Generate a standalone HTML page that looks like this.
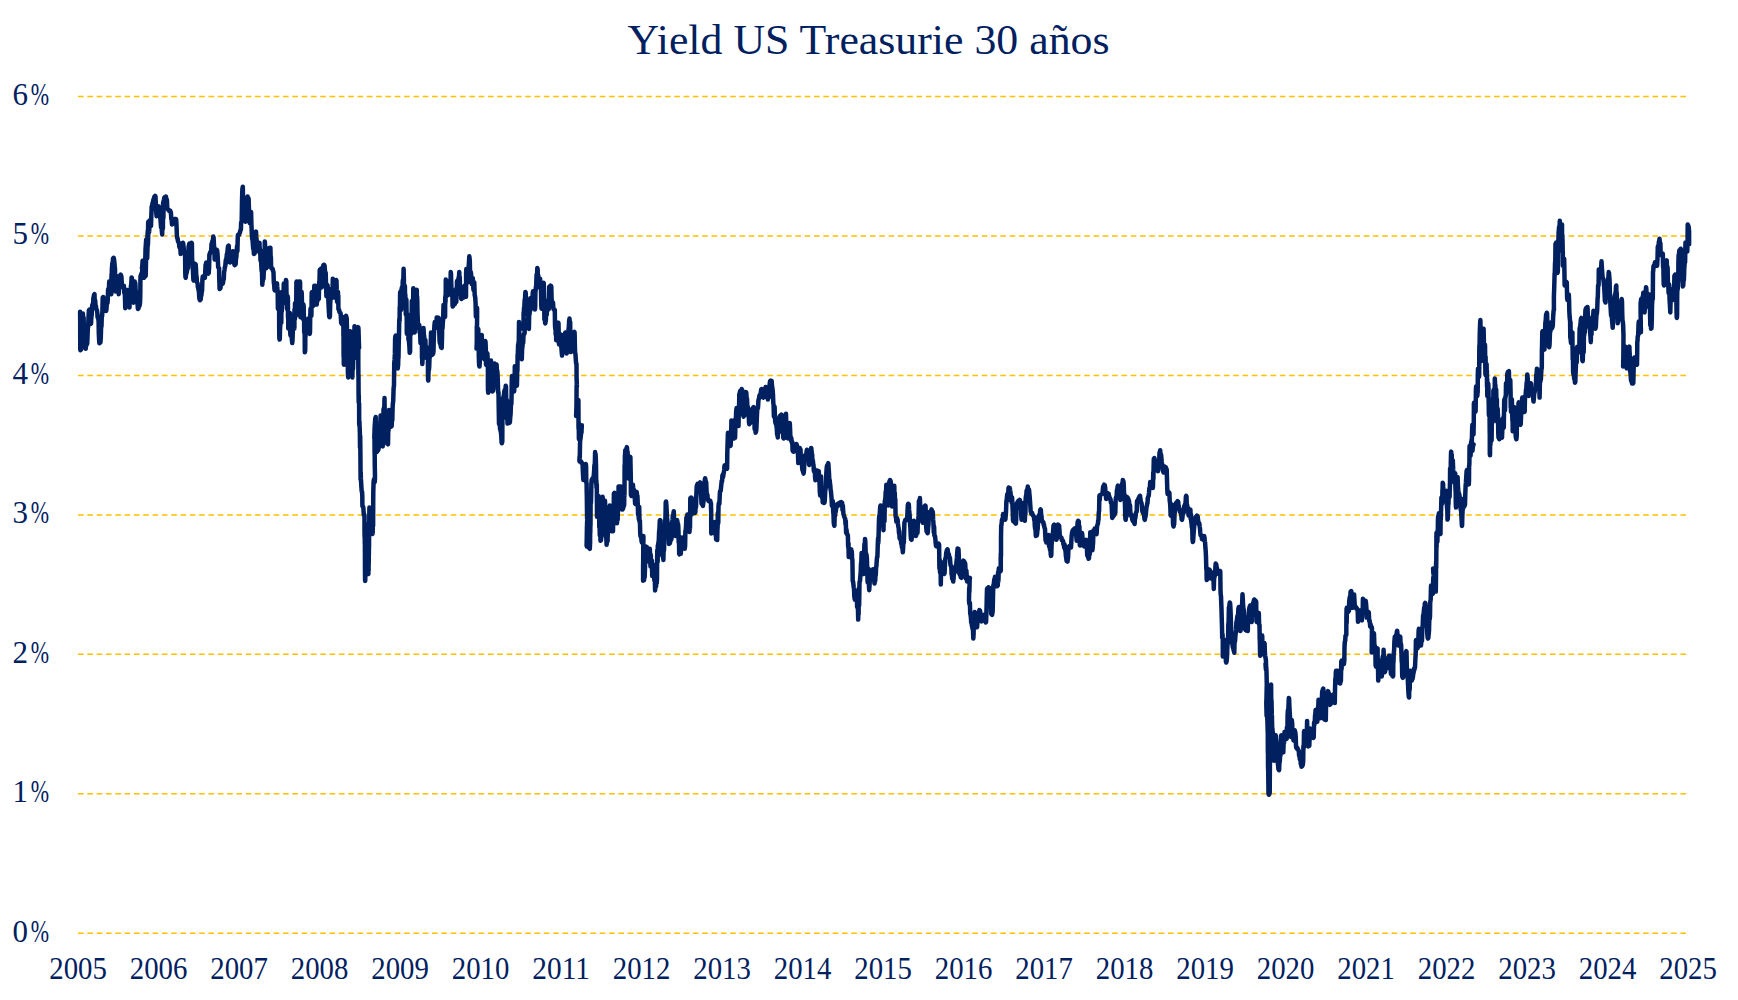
<!DOCTYPE html>
<html lang="es"><head><meta charset="utf-8"><title>Yield US Treasurie 30 años</title>
<style>html,body{margin:0;padding:0;background:#fff;}body{width:1738px;height:1000px;overflow:hidden;}svg{display:block;}text{font-family:"Liberation Serif",serif;fill:#002060;}.g{stroke:#ffc000;stroke-width:1.5;stroke-dasharray:5.7 3.616;fill:none;}.yl{font-size:31px;}.xl{font-size:31px;text-anchor:middle;}.ln{fill:none;stroke:#002060;stroke-width:4.5;stroke-linejoin:round;stroke-linecap:round;}</style></head><body>
<svg width="1738" height="1000" viewBox="0 0 1738 1000">
<rect width="1738" height="1000" fill="#fff"/>
<text x="868.5" y="54" text-anchor="middle" font-size="42" textLength="482" lengthAdjust="spacingAndGlyphs">Yield US Treasurie 30 años</text>
<line class="g" x1="78" x2="1686" y1="933.3" y2="933.3"/>
<text class="yl" y="941.8"><tspan x="12.4">0</tspan><tspan x="30.8" textLength="18.3" lengthAdjust="spacingAndGlyphs">%</tspan></text>
<line class="g" x1="78" x2="1686" y1="793.8" y2="793.8"/>
<text class="yl" y="802.3"><tspan x="12.4">1</tspan><tspan x="30.8" textLength="18.3" lengthAdjust="spacingAndGlyphs">%</tspan></text>
<line class="g" x1="78" x2="1686" y1="654.3" y2="654.3"/>
<text class="yl" y="662.8"><tspan x="12.4">2</tspan><tspan x="30.8" textLength="18.3" lengthAdjust="spacingAndGlyphs">%</tspan></text>
<line class="g" x1="78" x2="1686" y1="514.9" y2="514.9"/>
<text class="yl" y="523.4"><tspan x="12.4">3</tspan><tspan x="30.8" textLength="18.3" lengthAdjust="spacingAndGlyphs">%</tspan></text>
<line class="g" x1="78" x2="1686" y1="375.4" y2="375.4"/>
<text class="yl" y="383.9"><tspan x="12.4">4</tspan><tspan x="30.8" textLength="18.3" lengthAdjust="spacingAndGlyphs">%</tspan></text>
<line class="g" x1="78" x2="1686" y1="235.9" y2="235.9"/>
<text class="yl" y="244.4"><tspan x="12.4">5</tspan><tspan x="30.8" textLength="18.3" lengthAdjust="spacingAndGlyphs">%</tspan></text>
<line class="g" x1="78" x2="1686" y1="96.4" y2="96.4"/>
<text class="yl" y="104.9"><tspan x="12.4">6</tspan><tspan x="30.8" textLength="18.3" lengthAdjust="spacingAndGlyphs">%</tspan></text>
<text class="xl" x="78.1" y="979.3" textLength="57.6" lengthAdjust="spacingAndGlyphs">2005</text>
<text class="xl" x="158.6" y="979.3" textLength="57.6" lengthAdjust="spacingAndGlyphs">2006</text>
<text class="xl" x="239.1" y="979.3" textLength="57.6" lengthAdjust="spacingAndGlyphs">2007</text>
<text class="xl" x="319.6" y="979.3" textLength="57.6" lengthAdjust="spacingAndGlyphs">2008</text>
<text class="xl" x="400.1" y="979.3" textLength="57.6" lengthAdjust="spacingAndGlyphs">2009</text>
<text class="xl" x="480.6" y="979.3" textLength="57.6" lengthAdjust="spacingAndGlyphs">2010</text>
<text class="xl" x="561.1" y="979.3" textLength="57.6" lengthAdjust="spacingAndGlyphs">2011</text>
<text class="xl" x="641.6" y="979.3" textLength="57.6" lengthAdjust="spacingAndGlyphs">2012</text>
<text class="xl" x="722.1" y="979.3" textLength="57.6" lengthAdjust="spacingAndGlyphs">2013</text>
<text class="xl" x="802.6" y="979.3" textLength="57.6" lengthAdjust="spacingAndGlyphs">2014</text>
<text class="xl" x="883.1" y="979.3" textLength="57.6" lengthAdjust="spacingAndGlyphs">2015</text>
<text class="xl" x="963.6" y="979.3" textLength="57.6" lengthAdjust="spacingAndGlyphs">2016</text>
<text class="xl" x="1044.1" y="979.3" textLength="57.6" lengthAdjust="spacingAndGlyphs">2017</text>
<text class="xl" x="1124.6" y="979.3" textLength="57.6" lengthAdjust="spacingAndGlyphs">2018</text>
<text class="xl" x="1205.1" y="979.3" textLength="57.6" lengthAdjust="spacingAndGlyphs">2019</text>
<text class="xl" x="1285.6" y="979.3" textLength="57.6" lengthAdjust="spacingAndGlyphs">2020</text>
<text class="xl" x="1366.1" y="979.3" textLength="57.6" lengthAdjust="spacingAndGlyphs">2021</text>
<text class="xl" x="1446.6" y="979.3" textLength="57.6" lengthAdjust="spacingAndGlyphs">2022</text>
<text class="xl" x="1527.1" y="979.3" textLength="57.6" lengthAdjust="spacingAndGlyphs">2023</text>
<text class="xl" x="1607.6" y="979.3" textLength="57.6" lengthAdjust="spacingAndGlyphs">2024</text>
<text class="xl" x="1688.1" y="979.3" textLength="57.6" lengthAdjust="spacingAndGlyphs">2025</text>
<path class="ln" d="M80.1,311.7 L80.1,313.2 L80.2,323.1 L80.2,336.5 L80.2,338.1 L80.3,349.6 L80.3,349.6 L80.4,350.2 L80.7,349.6 L81.0,349.5 L81.3,348.5 L81.6,348.1 L81.9,346.0 L82.1,339.0 L82.2,345.4 L82.4,325.0 L82.6,317.8 L82.7,321.4 L82.9,313.5 L83.3,322.1 L83.6,317.6 L84.0,332.0 L84.3,339.7 L84.7,338.3 L85.0,345.0 L85.3,343.9 L85.7,348.8 L86.0,343.5 L86.3,344.9 L86.6,345.0 L86.9,342.9 L87.2,343.6 L87.5,337.6 L87.8,328.6 L88.2,326.6 L88.5,317.9 L88.9,310.2 L89.2,310.2 L89.6,309.6 L89.9,316.9 L90.3,319.1 L90.6,323.0 L91.0,323.6 L91.3,317.8 L91.7,314.6 L92.0,307.4 L92.4,304.6 L92.7,304.6 L93.1,304.0 L93.4,298.1 L93.8,296.2 L94.1,294.8 L94.5,294.2 L94.8,303.6 L95.2,300.5 L95.5,305.7 L95.9,306.0 L96.2,309.0 L96.6,309.6 L96.9,310.2 L97.3,312.7 L97.6,317.4 L98.0,318.0 L98.3,318.6 L98.6,321.5 L98.8,333.7 L99.1,339.5 L99.4,343.2 L99.7,342.6 L100.1,336.0 L100.4,342.6 L100.8,337.5 L101.1,327.0 L101.5,326.4 L101.8,315.6 L102.1,316.3 L102.4,311.1 L102.7,297.6 L103.0,297.6 L103.3,297.0 L103.7,301.9 L104.0,303.8 L104.4,307.9 L104.7,305.1 L105.1,307.1 L105.4,308.3 L105.8,307.0 L106.1,311.0 L106.4,309.9 L106.8,303.7 L107.1,299.0 L107.5,303.2 L107.8,298.4 L108.1,289.5 L108.5,288.6 L108.8,291.7 L109.2,281.6 L109.5,284.8 L109.9,290.8 L110.2,291.4 L110.6,293.6 L110.9,293.6 L111.3,294.2 L111.4,280.4 L111.6,273.8 L111.7,277.3 L111.9,268.6 L112.0,267.6 L112.3,263.1 L112.7,264.5 L113.0,258.4 L113.3,261.8 L113.7,257.8 L114.0,259.0 L114.4,262.4 L114.8,267.6 L115.0,268.2 L115.1,278.8 L115.3,279.6 L115.5,291.4 L115.8,282.4 L116.2,276.8 L116.5,276.6 L116.9,276.0 L117.2,282.3 L117.5,278.5 L117.8,287.4 L118.1,280.9 L118.4,283.8 L118.7,294.2 L119.0,286.5 L119.4,282.9 L119.7,282.7 L120.0,277.4 L120.3,275.2 L120.7,274.6 L121.0,275.2 L121.4,276.4 L121.7,282.1 L122.1,287.2 L122.4,286.6 L122.7,286.6 L123.0,286.6 L123.3,286.4 L123.6,286.4 L123.9,285.8 L124.2,292.9 L124.6,288.8 L124.9,295.5 L125.3,308.2 L125.6,303.5 L126.0,295.2 L126.3,300.1 L126.7,296.2 L127.0,292.8 L127.4,290.0 L127.7,291.4 L128.1,294.9 L128.4,290.6 L128.8,296.6 L129.1,303.7 L129.5,307.5 L129.8,292.8 L130.2,291.9 L130.5,295.5 L130.9,285.8 L131.2,285.2 L131.6,277.4 L131.9,278.0 L132.3,292.0 L132.6,300.8 L132.9,302.0 L133.3,302.6 L133.6,293.4 L134.0,282.9 L134.3,294.4 L134.7,281.6 L135.0,289.8 L135.3,283.0 L135.6,290.1 L135.9,292.7 L136.2,291.9 L136.5,298.4 L136.8,299.6 L137.2,299.0 L137.5,304.0 L137.9,308.9 L138.2,308.3 L138.6,308.3 L138.9,305.3 L139.3,304.7 L139.6,305.6 L140.0,302.6 L140.1,301.5 L140.3,293.4 L140.4,282.3 L140.5,276.6 L140.7,276.0 L141.0,274.9 L141.3,273.7 L141.6,275.4 L141.9,274.7 L142.2,270.9 L142.5,268.3 L142.8,268.9 L143.2,273.2 L143.5,276.8 L143.8,275.1 L144.2,277.4 L144.5,276.8 L144.9,276.6 L145.2,276.6 L145.6,276.0 L145.7,275.4 L145.9,267.2 L146.0,261.2 L146.1,251.4 L146.3,250.8 L146.6,247.4 L147.0,246.0 L147.3,245.8 L147.7,245.2 L147.9,244.6 L148.1,240.2 L148.4,228.4 L148.7,227.8 L149.1,226.5 L149.4,225.5 L149.8,223.1 L150.1,224.1 L150.5,220.0 L150.2,222.8 L149.8,227.1 L149.5,220.6 L149.2,231.9 L148.8,223.2 L148.5,227.5 L148.2,222.0 L147.8,244.6 L147.5,247.8 L147.2,258.1 L146.9,240.6 L146.5,249.7 L146.2,239.6 L145.9,243.4 L145.5,250.2 L145.2,263.1 L144.9,260.6 L144.5,259.9 L144.2,263.0 L143.9,267.4 L143.5,267.4 L143.2,267.4 L142.9,267.4 L142.6,260.7 L142.2,267.4 L141.9,268.0 L142.2,268.6 L142.6,269.9 L142.9,272.5 L143.3,277.2 L143.6,276.6 L144.0,277.8 L144.3,277.2 L144.7,275.1 L145.0,275.0 L145.4,273.6 L145.6,272.2 L145.7,268.4 L145.9,255.6 L146.1,251.2 L146.4,250.0 L146.7,248.9 L147.0,241.1 L147.3,240.1 L147.6,233.3 L147.9,230.2 L148.2,229.2 L148.6,224.0 L148.9,221.8 L149.2,222.4 L149.6,223.2 L149.9,224.0 L150.3,223.8 L150.6,225.4 L151.0,226.0 L151.3,216.6 L151.7,206.3 L152.0,209.8 L152.4,203.6 L152.7,203.0 L153.1,201.3 L153.4,199.5 L153.8,201.2 L154.1,197.6 L154.5,196.5 L154.8,196.5 L155.2,195.9 L155.5,196.5 L155.9,205.1 L156.2,211.8 L156.6,216.2 L156.9,214.0 L157.3,207.8 L157.6,208.8 L158.0,207.0 L158.3,207.7 L158.7,206.4 L159.0,207.3 L159.4,209.5 L159.7,214.6 L160.1,217.6 L160.4,218.2 L160.8,224.0 L161.1,227.6 L161.5,225.2 L161.8,230.6 L162.2,234.4 L162.4,222.2 L162.7,227.0 L162.9,228.7 L163.1,202.6 L163.4,218.2 L163.6,200.8 L163.9,200.0 L164.3,197.8 L164.6,197.2 L165.0,197.2 L165.3,197.3 L165.6,197.6 L166.0,196.6 L166.3,202.1 L166.6,199.0 L166.9,200.1 L167.2,206.8 L167.5,208.6 L167.8,209.2 L168.1,209.8 L168.5,209.8 L168.8,209.8 L169.2,211.0 L169.5,210.5 L169.9,211.1 L170.2,210.6 L170.6,212.0 L170.9,212.6 L171.3,219.2 L171.6,218.8 L172.0,224.6 L172.3,223.2 L172.6,223.9 L172.9,222.7 L173.3,222.2 L173.6,219.6 L173.9,219.6 L174.2,219.6 L174.5,219.0 L174.9,219.0 L175.2,219.0 L175.6,219.0 L175.9,219.0 L176.2,219.6 L176.6,227.4 L176.9,235.8 L177.2,238.1 L177.6,238.2 L177.9,240.9 L178.3,242.2 L178.6,242.2 L179.0,242.8 L179.3,246.5 L179.7,247.7 L180.0,243.6 L180.3,248.0 L180.7,254.0 L181.0,247.6 L181.3,250.8 L181.6,247.3 L181.9,246.5 L182.3,249.1 L182.6,244.0 L182.9,242.8 L183.2,243.4 L183.6,246.9 L183.9,250.3 L184.2,253.4 L184.5,253.4 L184.9,254.0 L185.1,256.7 L185.3,273.4 L185.5,277.2 L185.7,277.8 L186.0,275.1 L186.4,273.1 L186.7,272.5 L187.1,270.3 L187.4,268.6 L187.7,268.6 L188.1,268.0 L188.3,256.3 L188.6,246.4 L188.8,248.1 L189.1,244.2 L189.4,243.6 L189.7,243.6 L190.0,243.6 L190.3,243.4 L190.6,243.6 L191.0,243.4 L191.3,243.4 L191.6,242.8 L191.9,243.4 L192.1,258.7 L192.4,262.2 L192.7,265.2 L193.0,271.4 L193.4,280.0 L193.7,280.6 L194.0,275.6 L194.4,267.1 L194.7,264.6 L195.1,263.8 L195.4,264.4 L195.7,264.5 L196.0,268.6 L196.3,276.6 L196.6,276.5 L196.9,282.0 L197.2,282.6 L197.6,283.3 L197.9,287.3 L198.2,287.5 L198.6,290.4 L198.9,291.0 L199.3,297.9 L199.6,299.5 L200.0,300.2 L200.3,297.5 L200.7,299.6 L201.0,295.5 L201.4,295.2 L201.7,292.1 L202.1,290.4 L202.4,279.5 L202.8,276.4 L203.1,277.0 L203.5,277.0 L203.8,277.0 L204.2,277.0 L204.5,277.2 L204.9,277.8 L205.2,272.8 L205.6,264.5 L205.9,265.4 L206.3,262.4 L206.6,267.8 L207.0,269.5 L207.3,267.5 L207.7,270.5 L208.0,272.3 L208.4,273.6 L208.7,273.0 L209.1,267.5 L209.4,254.6 L209.8,254.0 L210.1,252.5 L210.5,252.0 L210.8,251.8 L211.2,251.2 L211.5,243.9 L211.9,246.1 L212.2,241.4 L212.6,243.2 L212.9,240.3 L213.3,236.5 L213.6,237.8 L214.0,245.1 L214.3,249.1 L214.7,259.6 L215.0,259.0 L215.4,259.0 L215.7,253.1 L216.1,255.5 L216.4,252.4 L216.8,249.8 L217.1,250.4 L217.5,253.6 L217.8,259.1 L218.2,267.4 L218.5,267.4 L218.9,268.0 L219.1,268.6 L219.2,277.2 L219.4,281.9 L219.6,289.0 L219.9,288.4 L220.2,288.0 L220.5,288.1 L220.9,284.4 L221.2,284.1 L221.5,284.4 L221.8,282.6 L222.1,282.6 L222.4,282.6 L222.8,283.6 L223.1,282.0 L223.4,280.1 L223.8,279.0 L224.1,272.0 L224.5,270.1 L224.8,267.2 L225.2,266.6 L225.5,262.9 L225.9,259.4 L226.2,263.0 L226.6,256.8 L226.9,253.9 L227.3,253.3 L227.6,250.0 L228.0,246.2 L228.3,246.2 L228.7,245.6 L229.0,254.4 L229.4,254.5 L229.7,261.8 L230.1,262.4 L230.4,259.7 L230.8,260.3 L231.1,258.4 L231.5,254.9 L231.8,258.3 L232.2,257.9 L232.5,255.0 L232.9,251.2 L233.2,251.8 L233.5,251.8 L233.8,259.3 L234.1,262.5 L234.4,264.5 L234.7,265.2 L235.0,263.6 L235.4,264.6 L235.7,263.9 L236.0,258.6 L236.4,256.8 L236.7,250.4 L237.1,246.0 L237.4,251.2 L237.8,235.8 L238.1,234.7 L238.5,234.9 L238.8,235.2 L239.2,234.1 L239.5,233.1 L239.9,232.9 L240.2,230.8 L240.6,230.2 L240.9,229.6 L241.1,223.0 L241.4,222.0 L241.7,221.0 L242.0,200.8 L242.3,190.6 L242.5,188.2 L242.8,186.8 L243.1,202.7 L243.3,196.0 L243.6,202.6 L243.8,211.4 L244.1,212.0 L244.4,213.8 L244.8,214.7 L245.1,217.1 L245.5,221.8 L245.8,221.2 L246.2,218.3 L246.5,216.4 L246.9,210.2 L247.2,203.0 L247.6,196.6 L247.9,199.5 L248.3,203.4 L248.6,198.5 L249.0,210.0 L249.3,215.6 L249.7,223.2 L250.0,218.5 L250.4,217.2 L250.7,214.2 L251.1,212.0 L251.4,224.0 L251.6,228.3 L251.9,235.7 L252.2,238.9 L252.5,240.0 L252.8,243.3 L253.2,248.9 L253.5,244.6 L253.9,254.0 L254.2,253.4 L254.6,253.4 L254.9,240.2 L255.3,242.4 L255.6,232.2 L256.0,231.6 L256.3,236.9 L256.7,240.9 L257.0,244.5 L257.4,250.6 L257.7,248.8 L258.1,251.2 L258.4,245.9 L258.8,244.9 L259.1,243.4 L259.5,242.8 L259.8,252.9 L260.2,249.8 L260.5,260.4 L260.9,261.0 L261.2,262.6 L261.6,270.8 L261.9,268.4 L262.3,284.8 L262.6,279.0 L262.9,280.9 L263.2,272.3 L263.5,278.8 L263.8,271.4 L264.1,270.8 L264.2,258.2 L264.4,252.7 L264.5,251.4 L264.7,247.5 L264.8,241.4 L265.1,245.4 L265.5,261.1 L265.8,250.5 L266.1,260.5 L266.5,268.0 L266.8,267.4 L267.2,262.8 L267.5,262.1 L267.9,256.7 L268.2,253.5 L268.6,248.4 L268.9,248.3 L269.2,248.1 L269.5,248.0 L269.8,247.9 L270.1,247.8 L270.4,247.7 L270.6,255.5 L270.9,257.3 L271.1,267.4 L271.4,268.0 L271.7,268.6 L272.1,269.0 L272.4,268.6 L272.8,269.4 L273.1,271.2 L273.5,272.2 L273.8,282.5 L274.2,285.2 L274.5,289.8 L274.9,290.4 L275.2,286.2 L275.6,289.8 L275.9,285.0 L276.3,284.0 L276.6,284.0 L277.0,283.4 L277.2,286.5 L277.3,287.3 L277.5,291.1 L277.7,293.4 L277.9,308.8 L278.2,301.9 L278.4,300.5 L278.6,292.0 L278.7,297.6 L278.8,303.4 L278.9,303.7 L279.1,307.2 L279.2,330.4 L279.3,336.2 L279.4,339.0 L279.5,339.0 L279.6,339.6 L279.8,339.0 L280.0,330.0 L280.2,326.5 L280.4,315.8 L280.7,320.8 L281.0,322.2 L281.3,322.8 L281.4,309.0 L281.6,304.1 L281.7,297.9 L281.8,311.5 L282.0,298.2 L282.1,292.0 L282.4,295.0 L282.7,302.6 L283.0,303.2 L283.2,297.5 L283.5,293.8 L283.8,283.6 L284.2,284.2 L284.5,291.2 L284.9,296.2 L285.2,295.5 L285.6,293.0 L285.9,280.1 L286.1,288.1 L286.3,280.7 L286.5,293.2 L286.7,300.6 L286.9,308.8 L287.2,296.8 L287.6,296.2 L287.7,296.8 L287.8,296.8 L287.9,298.2 L288.0,317.1 L288.2,318.5 L288.3,328.4 L288.6,321.2 L289.0,318.2 L289.3,320.0 L289.7,313.0 L289.9,321.0 L290.1,313.6 L290.3,334.0 L290.5,335.4 L290.8,319.0 L291.2,331.3 L291.5,315.8 L291.6,316.4 L291.8,338.4 L291.9,340.7 L292.1,340.7 L292.2,343.1 L292.5,340.7 L292.8,332.4 L293.0,316.4 L293.3,318.7 L293.6,315.8 L293.9,316.4 L294.2,320.6 L294.4,328.4 L294.5,309.2 L294.7,313.5 L294.8,318.0 L294.9,319.3 L295.0,303.2 L295.3,308.4 L295.6,305.3 L296.0,315.8 L296.1,308.3 L296.2,301.1 L296.3,293.2 L296.4,282.1 L296.6,282.3 L296.7,281.5 L297.0,288.0 L297.3,289.1 L297.6,292.4 L297.9,304.6 L298.2,304.0 L298.4,293.4 L298.7,291.1 L298.9,281.5 L299.2,281.5 L299.6,281.5 L299.9,281.5 L300.0,294.3 L300.1,282.1 L300.1,290.5 L300.2,300.5 L300.3,316.6 L300.4,307.9 L300.5,317.2 L300.7,312.7 L300.9,301.5 L301.1,305.9 L301.4,292.6 L301.6,292.0 L301.8,294.3 L302.0,304.6 L302.2,314.4 L302.5,318.0 L302.7,318.6 L303.0,317.8 L303.3,312.1 L303.5,304.6 L303.7,306.6 L303.8,313.7 L304.0,317.5 L304.1,322.8 L304.2,332.6 L304.4,324.9 L304.5,326.9 L304.7,335.9 L304.8,352.2 L305.0,351.6 L305.2,350.4 L305.4,329.8 L305.5,336.6 L305.7,320.6 L305.9,320.0 L306.3,325.9 L306.7,331.0 L307.0,332.6 L307.3,323.7 L307.7,321.4 L308.0,323.9 L308.3,318.6 L308.6,323.0 L309.0,331.1 L309.3,324.1 L309.7,334.0 L309.9,323.9 L310.0,332.6 L310.2,317.0 L310.4,312.5 L310.5,308.8 L310.8,311.1 L311.1,315.2 L311.4,315.8 L311.5,308.6 L311.7,292.6 L311.9,292.6 L312.1,292.0 L312.4,298.1 L312.8,295.0 L313.2,306.0 L313.5,292.6 L313.8,293.1 L314.0,298.4 L314.3,285.7 L314.6,285.7 L315.0,285.7 L315.3,285.7 L315.6,291.7 L316.0,288.9 L316.3,302.1 L316.7,304.6 L317.0,300.9 L317.3,301.5 L317.7,292.0 L318.0,293.7 L318.4,298.4 L318.8,299.0 L319.0,290.3 L319.2,282.3 L319.5,280.9 L319.7,270.2 L319.9,269.6 L320.2,270.7 L320.6,277.1 L320.9,287.8 L321.1,276.0 L321.4,284.3 L321.6,268.2 L322.0,270.0 L322.3,285.5 L322.7,286.4 L323.0,274.7 L323.3,265.3 L323.7,268.7 L324.0,264.7 L324.3,268.2 L324.6,265.6 L324.9,270.1 L325.2,271.8 L325.5,272.4 L325.7,273.0 L325.9,279.7 L326.1,287.2 L326.4,296.2 L326.7,294.6 L327.0,290.8 L327.3,285.0 L327.6,285.6 L328.0,290.4 L328.3,298.5 L328.6,306.0 L328.9,311.5 L329.2,316.6 L329.6,317.2 L329.9,316.6 L330.2,303.5 L330.6,297.6 L330.8,293.4 L331.1,289.8 L331.4,289.2 L331.7,291.1 L332.1,297.6 L332.3,293.9 L332.6,289.5 L332.8,278.7 L333.1,289.7 L333.4,285.5 L333.7,284.1 L334.0,288.0 L334.3,297.6 L334.7,292.0 L335.0,293.5 L335.3,282.6 L335.6,288.5 L336.0,283.0 L336.3,280.1 L336.5,280.7 L336.7,289.4 L336.9,293.2 L337.1,301.8 L337.4,300.4 L337.7,297.3 L338.0,292.0 L338.1,298.3 L338.3,295.4 L338.4,308.8 L338.7,309.5 L339.1,309.9 L339.4,311.9 L339.8,312.4 L340.1,312.4 L340.5,313.0 L340.8,316.1 L341.2,323.0 L341.5,318.1 L341.9,324.2 L342.2,319.9 L342.6,319.0 L342.9,318.0 L343.3,317.2 L343.4,317.8 L343.4,335.5 L343.5,331.6 L343.6,357.1 L343.7,345.9 L343.8,354.3 L343.8,364.2 L343.9,362.9 L344.0,364.8 L344.1,362.0 L344.3,354.5 L344.5,354.1 L344.6,354.5 L344.8,345.0 L344.9,332.3 L345.1,328.4 L345.4,327.8 L345.8,318.2 L346.1,315.8 L346.4,319.8 L346.7,317.7 L347.1,334.0 L347.2,347.5 L347.3,344.3 L347.5,358.1 L347.6,347.2 L347.8,356.0 L347.9,371.9 L348.0,375.1 L348.2,377.4 L348.3,374.8 L348.5,373.9 L348.7,365.7 L348.8,365.7 L349.0,352.1 L349.1,345.3 L349.3,339.6 L349.6,334.6 L350.0,333.4 L350.3,331.2 L350.6,331.8 L350.9,337.5 L351.3,348.0 L351.5,348.6 L351.7,348.9 L351.9,362.5 L352.2,362.1 L352.4,377.4 L352.5,367.5 L352.7,368.7 L352.9,364.6 L353.0,369.3 L353.2,361.5 L353.3,353.1 L353.5,339.6 L353.8,332.7 L354.2,338.2 L354.5,326.3 L354.7,332.4 L355.0,340.8 L355.2,356.8 L355.4,357.2 L355.7,357.2 L355.9,357.8 L356.1,341.6 L356.4,334.6 L356.6,342.7 L356.9,334.0 L357.2,329.2 L357.6,327.6 L358.0,327.0 L358.3,327.6 L358.5,329.5 L358.8,340.7 L359.1,348.0 L358.8,347.7 L358.5,347.3 L358.2,347.0 L358.3,350.8 L358.3,360.9 L358.4,375.0 L358.5,375.3 L358.5,378.3 L358.6,397.1 L358.6,390.7 L358.7,402.4 L358.8,395.5 L358.8,402.4 L358.9,403.0 L359.1,403.6 L359.2,424.7 L359.4,421.0 L359.6,426.8 L359.7,427.4 L359.9,434.2 L360.0,447.7 L360.2,435.7 L360.3,443.6 L360.4,452.7 L360.6,479.4 L360.7,471.7 L360.9,478.9 L361.0,480.0 L361.4,487.1 L361.7,491.4 L362.1,492.0 L362.3,496.1 L362.4,506.0 L362.7,506.6 L363.1,506.6 L363.4,508.1 L363.8,515.2 L364.1,513.9 L364.5,515.8 L364.5,530.9 L364.6,537.0 L364.7,522.5 L364.7,534.4 L364.8,541.4 L364.8,544.0 L364.9,542.0 L364.9,546.6 L365.0,570.0 L365.0,572.5 L365.1,580.3 L365.1,580.3 L365.2,580.9 L365.5,572.2 L365.8,560.6 L366.0,549.6 L366.3,549.8 L366.6,548.6 L366.9,548.0 L367.2,548.6 L367.5,558.4 L367.8,566.9 L368.1,573.3 L368.4,573.9 L368.5,565.0 L368.6,570.8 L368.6,562.1 L368.7,564.0 L368.8,554.5 L368.9,553.1 L368.9,548.0 L369.0,548.2 L369.1,535.4 L369.2,532.2 L369.2,525.1 L369.3,518.6 L369.4,507.4 L369.7,513.6 L370.1,515.0 L370.4,526.9 L370.7,527.3 L371.1,528.4 L371.4,529.5 L371.8,531.0 L372.1,533.4 L372.5,534.0 L372.6,531.0 L372.7,533.4 L372.8,523.4 L372.9,521.6 L373.0,508.4 L373.1,526.0 L373.2,502.5 L373.3,492.0 L373.6,481.6 L374.0,479.2 L374.3,479.0 L374.7,482.1 L375.0,478.0 L374.9,470.7 L374.8,467.1 L374.7,455.1 L374.6,449.4 L374.6,453.7 L374.5,438.6 L374.4,438.6 L374.3,438.0 L374.6,428.2 L375.0,422.1 L375.3,418.5 L375.7,417.0 L375.8,433.7 L376.0,443.5 L376.1,429.1 L376.3,429.6 L376.4,434.8 L376.5,431.5 L376.7,452.0 L377.0,451.1 L377.3,451.2 L377.6,450.1 L377.9,450.4 L378.2,450.1 L378.5,449.2 L378.8,446.2 L379.2,430.0 L379.5,442.7 L379.9,433.1 L380.2,425.7 L380.6,415.6 L380.9,427.1 L381.3,421.6 L381.6,423.5 L382.0,435.1 L382.3,437.8 L382.7,446.4 L382.9,433.6 L383.1,421.3 L383.3,431.7 L383.5,408.9 L383.7,412.8 L383.9,409.9 L384.1,425.1 L384.3,406.8 L384.5,398.1 L384.7,411.4 L384.8,423.2 L384.9,434.4 L385.1,429.0 L385.2,437.4 L385.3,436.4 L385.5,438.0 L385.8,441.2 L386.1,440.7 L386.4,442.3 L386.7,442.7 L387.1,443.7 L387.4,443.7 L387.7,443.7 L388.0,444.3 L388.2,434.1 L388.3,424.2 L388.5,431.0 L388.7,426.4 L388.8,422.5 L389.0,410.0 L389.3,410.6 L389.7,419.8 L390.0,417.1 L390.4,426.2 L390.7,424.4 L391.1,426.8 L391.4,426.2 L391.7,426.2 L392.0,418.3 L392.3,420.5 L392.6,407.9 L392.9,403.0 L393.2,401.3 L393.6,388.1 L393.9,386.2 L394.0,385.6 L394.1,370.8 L394.2,374.7 L394.2,364.0 L394.6,359.2 L394.9,353.4 L395.1,339.1 L395.4,336.2 L395.8,335.5 L396.1,336.5 L396.4,347.4 L396.8,355.0 L397.1,355.6 L397.4,362.9 L397.7,368.5 L397.9,366.6 L398.1,365.6 L398.3,358.2 L398.5,358.2 L398.8,340.0 L398.9,339.4 L399.1,328.2 L399.2,322.0 L399.4,318.4 L399.6,321.4 L399.7,307.0 L399.9,310.2 L400.1,294.0 L400.2,292.0 L400.5,300.4 L400.8,308.2 L401.0,310.0 L401.2,309.4 L401.4,289.5 L401.6,291.9 L401.8,287.5 L402.1,297.2 L402.5,299.5 L402.7,281.9 L402.9,279.9 L403.0,285.5 L403.2,285.1 L403.4,276.7 L403.6,268.8 L403.7,272.1 L403.9,279.7 L404.1,294.4 L404.3,294.2 L404.4,295.0 L404.9,286.0 L405.1,297.0 L405.3,294.4 L405.4,297.7 L405.6,298.2 L405.8,314.5 L406.0,306.1 L406.2,301.7 L406.4,299.5 L406.5,307.7 L406.6,313.7 L406.7,313.0 L406.8,333.4 L406.9,333.4 L407.0,334.0 L407.3,331.8 L407.6,326.8 L407.9,314.5 L408.1,315.1 L408.3,324.4 L408.4,339.4 L408.6,339.4 L408.8,340.0 L409.1,342.8 L409.4,346.4 L409.7,352.8 L409.9,352.1 L410.1,352.1 L410.2,332.0 L410.4,334.3 L410.6,325.0 L410.9,331.9 L411.2,334.0 L411.3,330.3 L411.4,327.5 L411.5,333.3 L411.6,318.1 L411.7,310.2 L411.8,301.0 L412.1,309.1 L412.4,313.9 L412.7,314.5 L412.8,309.0 L412.9,308.6 L413.1,310.0 L413.2,295.3 L413.3,288.2 L413.4,289.4 L413.6,288.9 L413.8,295.2 L413.9,321.6 L414.1,317.7 L414.2,319.6 L414.4,328.2 L414.5,332.5 L414.6,331.2 L414.8,331.9 L414.9,312.7 L415.0,311.1 L415.1,295.6 L415.3,295.6 L415.4,295.0 L415.7,291.8 L416.1,290.6 L416.4,291.0 L416.8,289.8 L416.9,305.3 L417.1,296.4 L417.3,301.2 L417.5,313.0 L417.8,320.0 L418.1,327.4 L418.4,328.0 L418.7,327.4 L419.0,325.6 L419.3,325.0 L419.6,332.3 L419.9,331.3 L420.2,334.7 L420.5,343.0 L420.8,342.2 L421.1,334.6 L421.4,334.0 L421.5,334.6 L421.7,334.6 L421.9,344.8 L422.0,358.4 L422.1,350.8 L422.3,364.0 L422.5,360.6 L422.6,344.0 L422.8,351.3 L423.0,338.4 L423.2,328.6 L423.3,339.9 L423.5,328.0 L423.9,334.9 L424.2,336.0 L424.6,347.5 L424.9,341.4 L425.1,341.5 L425.4,340.0 L425.8,353.6 L426.1,352.1 L426.5,358.0 L426.8,351.2 L427.1,348.1 L427.4,347.5 L427.5,348.1 L427.7,357.8 L427.9,350.5 L428.0,376.9 L428.1,379.9 L428.3,380.5 L428.6,368.3 L428.9,369.9 L429.2,367.2 L429.5,358.0 L429.9,356.9 L430.2,355.0 L430.4,354.4 L430.6,348.2 L430.8,341.9 L431.0,332.5 L431.2,343.3 L431.4,337.0 L431.7,346.1 L431.9,355.0 L432.2,354.4 L432.6,354.4 L432.9,354.1 L433.2,353.5 L433.5,351.3 L433.8,337.8 L434.0,334.0 L434.4,325.5 L434.8,322.0 L435.1,322.6 L435.4,324.9 L435.8,328.0 L436.1,327.4 L436.4,325.6 L436.7,317.5 L437.1,317.6 L437.4,317.6 L437.8,317.7 L438.1,317.7 L438.5,317.8 L438.8,318.4 L439.0,322.5 L439.3,332.6 L439.6,341.6 L439.9,343.2 L440.3,343.6 L440.6,344.8 L441.0,347.3 L441.3,347.3 L441.7,347.9 L442.0,338.6 L442.2,324.2 L442.5,328.6 L442.8,323.0 L443.0,320.7 L443.3,314.1 L443.5,305.0 L443.8,305.7 L444.1,309.9 L444.4,315.5 L444.7,316.1 L445.0,317.0 L445.1,316.4 L445.2,297.5 L445.3,303.6 L445.4,295.7 L445.5,301.7 L445.7,295.4 L445.8,279.5 L446.1,289.9 L446.5,285.3 L446.8,296.0 L447.1,295.4 L447.4,295.4 L447.7,294.5 L448.0,292.2 L448.3,284.0 L448.8,281.0 L449.1,284.8 L449.4,286.2 L449.7,294.5 L449.9,289.7 L450.2,292.6 L450.5,287.0 L450.7,272.0 L451.0,273.6 L451.2,282.3 L451.5,290.0 L451.8,290.0 L452.2,290.0 L452.4,297.8 L452.6,305.9 L452.8,306.5 L453.1,299.5 L453.4,297.1 L453.7,294.5 L454.1,299.3 L454.4,302.5 L454.8,304.3 L455.1,301.0 L455.5,290.0 L455.9,301.4 L456.3,302.0 L456.5,287.9 L456.6,289.6 L456.8,292.2 L457.0,281.0 L457.3,281.6 L457.6,289.4 L457.9,294.5 L458.1,293.4 L458.3,279.7 L458.5,278.0 L458.9,277.4 L459.3,272.0 L459.5,285.7 L459.8,277.1 L460.0,291.5 L460.4,290.9 L460.8,290.0 L461.1,298.4 L461.5,299.0 L461.9,292.0 L462.2,287.6 L462.6,287.0 L462.9,295.5 L463.2,293.6 L463.5,296.9 L463.8,297.5 L464.1,293.8 L464.5,286.6 L464.8,285.5 L465.1,288.6 L465.4,287.4 L465.7,290.0 L466.0,296.8 L466.1,282.7 L466.1,272.7 L466.2,271.4 L466.3,269.6 L466.3,269.0 L466.6,271.4 L466.9,281.3 L467.2,281.9 L467.5,282.5 L467.8,270.8 L468.1,273.6 L468.4,267.5 L468.7,266.3 L469.0,261.4 L469.3,256.3 L469.6,258.6 L469.8,260.7 L470.1,273.5 L470.5,272.9 L470.8,272.0 L471.1,274.1 L471.4,279.9 L471.7,284.0 L472.1,280.5 L472.4,278.6 L472.8,278.0 L473.2,286.2 L473.5,290.0 L473.9,289.4 L474.3,282.5 L474.7,295.4 L475.0,296.0 L475.3,298.5 L475.6,303.6 L475.9,316.4 L476.2,317.0 L476.5,316.4 L476.8,314.2 L477.1,308.0 L477.1,316.6 L477.0,328.9 L476.9,341.8 L476.8,325.9 L476.8,344.2 L476.7,343.3 L476.6,348.0 L476.5,348.6 L476.9,342.0 L477.2,336.6 L477.6,333.7 L478.0,341.7 L478.3,329.1 L478.5,347.6 L478.7,343.8 L478.8,356.6 L479.0,362.1 L479.2,366.0 L479.4,364.5 L479.5,366.6 L479.8,362.2 L480.0,347.6 L480.3,351.1 L480.5,352.1 L480.7,341.1 L481.1,339.3 L481.4,339.4 L481.8,335.1 L482.0,348.3 L482.3,351.4 L482.5,353.1 L482.9,343.2 L483.3,342.6 L483.6,352.9 L484.0,357.6 L484.3,359.1 L484.6,358.5 L484.9,344.1 L485.2,341.1 L485.5,341.7 L485.8,348.4 L486.0,364.5 L486.3,365.1 L486.7,364.4 L487.0,353.1 L487.4,353.7 L487.8,362.1 L487.9,362.7 L487.9,381.6 L488.0,390.9 L488.1,377.4 L488.1,382.9 L488.2,392.8 L488.5,384.6 L488.9,379.4 L489.2,362.9 L489.6,368.5 L489.9,361.2 L490.3,366.0 L490.6,371.8 L491.0,360.6 L491.2,379.6 L491.5,379.6 L491.7,384.3 L491.9,373.0 L492.2,379.3 L492.4,391.4 L492.7,389.5 L493.1,390.8 L493.4,389.5 L493.8,380.1 L494.1,370.2 L494.5,363.4 L494.8,364.0 L495.2,364.1 L495.5,364.2 L495.9,364.2 L496.2,364.2 L496.6,364.8 L496.9,370.6 L497.3,370.9 L497.6,374.9 L498.0,387.2 L498.2,393.3 L498.5,392.0 L498.7,406.8 L499.0,424.0 L499.4,412.3 L499.7,422.8 L500.1,429.2 L500.4,429.8 L500.7,431.2 L501.0,432.7 L501.3,436.5 L501.6,442.6 L501.9,443.2 L502.0,419.6 L502.2,419.8 L502.3,442.1 L502.4,419.9 L502.5,399.0 L502.7,399.0 L502.8,404.2 L502.9,398.4 L503.2,397.8 L503.6,396.5 L503.9,395.4 L504.3,391.5 L504.6,390.1 L505.0,390.2 L505.3,391.2 L505.7,385.8 L506.0,386.4 L506.2,401.1 L506.5,399.6 L506.7,418.4 L507.0,400.3 L507.3,412.9 L507.5,423.6 L507.9,423.0 L508.2,423.0 L508.5,422.8 L508.9,423.0 L509.2,423.0 L509.6,422.8 L509.9,422.2 L510.2,417.7 L510.6,414.1 L510.9,405.3 L511.3,404.0 L511.4,403.4 L511.6,393.6 L511.7,383.9 L511.9,376.6 L512.0,376.0 L512.3,379.2 L512.7,384.0 L513.0,390.1 L513.4,388.2 L513.7,388.7 L514.1,391.4 L514.2,390.6 L514.4,384.7 L514.5,384.1 L514.7,380.1 L514.8,366.2 L515.1,371.8 L515.5,381.2 L515.8,378.2 L516.2,383.0 L516.5,378.3 L516.9,385.8 L517.0,382.1 L517.1,378.6 L517.2,368.1 L517.4,371.3 L517.5,363.6 L517.6,355.0 L517.8,354.4 L518.1,344.8 L518.3,347.6 L518.5,342.6 L518.8,341.0 L519.0,322.1 L519.3,333.6 L519.7,339.2 L520.0,338.3 L520.3,342.9 L520.7,346.6 L521.0,353.1 L521.4,358.6 L521.8,359.2 L522.1,349.0 L522.5,346.3 L522.8,340.6 L523.2,343.0 L523.5,335.6 L523.9,334.0 L524.2,333.4 L524.6,333.4 L524.9,321.6 L525.3,320.0 L525.0,324.8 L524.6,323.4 L524.3,326.1 L524.0,326.5 L523.6,328.4 L523.3,329.0 L523.5,328.4 L523.6,312.4 L523.8,313.7 L524.0,308.0 L524.3,307.4 L524.7,299.6 L525.0,298.9 L525.4,291.9 L525.7,292.5 L526.1,305.4 L526.4,304.0 L526.8,308.0 L527.1,314.3 L527.5,311.1 L527.8,311.6 L528.2,315.1 L528.5,321.1 L528.9,329.0 L529.1,318.3 L529.4,305.9 L529.6,314.2 L529.8,306.1 L530.1,311.2 L530.3,298.2 L530.6,305.0 L531.0,306.5 L531.3,306.3 L531.7,308.0 L532.0,307.4 L532.4,305.9 L532.7,293.7 L533.1,291.2 L533.4,291.8 L533.7,295.1 L534.0,291.8 L534.3,308.8 L534.6,298.3 L534.9,309.4 L535.2,307.0 L535.4,292.5 L535.7,289.9 L535.9,287.0 L536.2,285.7 L536.6,274.6 L536.9,278.8 L537.3,268.1 L537.6,268.7 L538.0,279.8 L538.3,275.4 L538.7,287.0 L539.0,282.4 L539.4,281.4 L539.7,280.4 L540.1,278.6 L540.3,287.5 L540.6,288.6 L540.8,286.7 L541.0,290.5 L541.3,305.6 L541.5,308.7 L541.8,305.5 L542.2,290.8 L542.5,291.3 L542.9,284.4 L543.2,289.5 L543.6,282.8 L543.8,283.4 L544.0,294.3 L544.2,303.2 L544.4,319.4 L544.6,299.8 L544.9,313.9 L545.1,322.8 L545.3,323.4 L545.6,321.6 L545.9,319.6 L546.2,309.2 L546.5,315.1 L546.8,314.5 L547.1,301.0 L547.4,304.7 L547.8,308.8 L548.1,308.8 L548.5,309.4 L548.8,308.8 L549.2,286.8 L549.5,290.8 L549.9,286.2 L550.2,286.2 L550.6,285.6 L550.9,291.9 L551.3,286.2 L551.6,299.3 L552.0,301.0 L552.3,302.1 L552.7,302.9 L553.0,302.5 L553.4,308.6 L553.7,309.5 L554.1,309.5 L554.4,309.5 L554.8,310.1 L555.0,325.4 L555.3,329.3 L555.5,321.3 L555.7,334.6 L556.0,324.2 L556.2,340.2 L556.5,333.0 L556.9,330.7 L557.2,331.2 L557.6,329.0 L557.9,324.4 L558.3,322.7 L558.5,323.3 L558.6,328.3 L558.8,341.4 L559.0,344.4 L559.3,343.8 L559.7,343.8 L560.0,340.5 L560.4,337.6 L560.7,335.2 L561.1,334.6 L561.3,346.0 L561.6,350.5 L561.8,353.2 L562.1,355.6 L562.4,352.5 L562.7,348.0 L563.0,345.9 L563.3,346.2 L563.6,344.2 L563.9,343.0 L564.2,342.0 L564.6,342.4 L564.9,335.2 L565.3,332.5 L565.6,335.1 L566.0,335.6 L566.3,340.7 L566.7,353.5 L567.0,351.6 L567.4,335.8 L567.7,341.5 L568.1,331.8 L568.4,330.4 L568.8,327.4 L569.1,321.1 L569.5,318.5 L569.7,328.1 L570.0,325.5 L570.2,321.9 L570.4,351.5 L570.7,337.6 L570.9,352.1 L571.2,351.5 L571.6,349.8 L571.9,346.2 L572.3,343.0 L572.6,338.8 L573.0,336.9 L573.3,341.6 L573.7,334.6 L574.0,333.0 L574.4,331.8 L574.6,332.8 L574.7,336.6 L574.9,346.2 L575.1,352.8 L575.4,353.4 L575.8,359.3 L576.1,363.4 L576.5,364.0 L576.6,379.7 L576.7,381.3 L576.8,384.4 L576.9,385.0 L576.8,386.9 L576.6,385.6 L576.5,401.6 L576.4,408.2 L576.2,415.4 L576.1,416.0 L576.4,408.0 L576.7,411.9 L577.1,408.4 L577.4,408.6 L577.7,405.8 L578.1,403.6 L578.4,399.9 L578.5,413.7 L578.5,426.1 L578.6,429.1 L578.7,422.0 L578.7,426.4 L578.8,426.2 L578.9,439.0 L579.2,438.4 L579.5,434.5 L579.8,427.7 L580.2,434.0 L580.5,426.0 L580.8,425.8 L581.2,433.5 L581.5,432.2 L581.8,425.2 L581.5,429.5 L581.2,425.8 L580.9,435.2 L580.5,438.7 L580.2,440.0 L580.0,444.1 L579.8,457.4 L579.6,456.0 L579.4,460.8 L579.7,461.5 L580.0,461.4 L580.4,461.4 L580.7,461.6 L581.0,461.4 L581.3,462.6 L581.6,462.3 L582.0,463.4 L582.3,463.3 L582.6,464.0 L582.9,472.4 L583.1,476.2 L583.4,480.0 L583.7,479.4 L584.1,478.8 L584.4,474.9 L584.8,469.7 L585.1,473.1 L585.5,464.6 L585.8,464.0 L586.1,466.2 L586.3,482.6 L586.6,483.2 L586.7,491.4 L586.8,495.2 L586.9,502.9 L587.1,519.0 L587.2,514.3 L587.3,511.0 L587.4,520.0 L587.2,520.6 L587.1,522.1 L586.9,528.9 L586.8,536.1 L586.6,545.6 L586.9,546.5 L587.2,546.3 L587.6,546.2 L587.9,546.6 L588.2,546.2 L588.5,547.3 L588.8,547.5 L589.2,548.2 L589.5,548.2 L589.8,548.8 L589.9,546.7 L590.0,544.3 L590.1,543.1 L590.2,526.7 L590.3,532.6 L590.4,524.3 L590.5,525.3 L590.6,504.0 L590.8,503.4 L591.0,501.7 L591.2,492.9 L591.4,483.2 L591.7,479.7 L592.1,481.7 L592.4,478.6 L592.8,479.2 L593.1,478.0 L593.5,476.8 L593.8,475.5 L594.1,471.2 L594.4,465.0 L594.8,465.5 L595.1,452.0 L595.3,456.4 L595.5,453.7 L595.8,457.8 L596.0,464.6 L596.2,480.0 L596.3,484.8 L596.4,480.6 L596.5,487.8 L596.7,486.6 L596.8,484.3 L596.9,497.7 L597.0,516.8 L597.3,516.2 L597.6,508.6 L598.0,501.0 L598.3,499.0 L598.6,496.0 L598.8,499.7 L599.1,509.8 L599.3,527.3 L599.6,525.9 L599.8,535.5 L600.0,525.8 L600.3,533.2 L600.5,540.8 L600.8,540.2 L601.0,540.2 L601.3,536.4 L601.6,520.7 L601.8,513.9 L602.1,498.5 L602.3,497.4 L602.6,496.8 L602.9,500.6 L603.2,505.5 L603.6,504.7 L603.9,510.6 L604.2,516.8 L604.5,510.4 L604.7,511.4 L605.0,500.8 L605.2,505.1 L605.4,514.3 L605.6,520.7 L605.8,535.1 L606.0,537.4 L606.2,534.2 L606.4,540.4 L606.6,544.8 L606.9,541.2 L607.2,530.1 L607.6,541.3 L607.9,528.0 L608.2,526.4 L608.5,524.1 L608.8,523.1 L609.2,516.9 L609.5,509.8 L609.8,505.6 L610.1,510.0 L610.4,518.9 L610.8,512.7 L611.1,521.3 L611.4,531.2 L611.7,531.2 L612.0,531.2 L612.4,531.2 L612.7,531.2 L613.0,531.2 L613.2,518.2 L613.5,509.8 L613.7,512.1 L613.9,493.4 L614.1,493.4 L614.4,493.4 L614.6,492.8 L614.9,496.6 L615.3,504.1 L615.6,509.4 L616.0,503.6 L616.3,512.6 L616.7,503.3 L617.0,523.2 L617.2,515.7 L617.5,517.7 L617.7,519.6 L617.9,509.8 L618.1,510.8 L618.4,499.8 L618.6,486.4 L618.9,486.4 L619.3,486.4 L619.6,486.4 L620.0,486.4 L620.3,486.4 L620.7,486.4 L621.0,486.4 L621.3,488.4 L621.6,496.1 L622.0,493.6 L622.3,509.6 L622.6,507.9 L622.9,509.0 L623.2,507.7 L623.6,504.6 L623.9,506.1 L624.2,504.0 L624.3,487.8 L624.4,493.6 L624.5,495.9 L624.6,465.0 L624.6,468.3 L624.7,478.8 L624.8,468.0 L624.9,455.8 L625.0,455.2 L625.3,450.2 L625.6,452.0 L626.0,452.5 L626.3,449.4 L626.6,447.8 L626.9,447.2 L627.1,449.0 L627.3,455.3 L627.6,451.6 L627.8,462.7 L628.0,475.9 L628.2,478.4 L628.5,471.9 L628.9,467.4 L629.2,462.2 L629.6,464.1 L629.9,457.4 L630.3,456.8 L630.4,457.4 L630.6,468.4 L630.8,477.0 L630.9,495.0 L631.1,491.7 L631.2,495.4 L631.4,496.0 L631.7,493.2 L632.0,491.4 L632.4,485.4 L632.7,486.3 L633.0,484.8 L633.3,494.6 L633.7,493.8 L634.0,489.7 L634.4,492.0 L634.7,496.9 L635.1,503.4 L635.4,504.0 L635.7,503.4 L636.0,497.8 L636.4,493.4 L636.7,492.0 L637.1,496.1 L637.4,495.6 L637.8,504.8 L638.1,514.9 L638.5,511.2 L638.8,519.2 L639.2,506.9 L639.5,521.8 L639.9,520.6 L640.2,532.8 L640.5,536.2 L640.8,536.3 L641.2,536.5 L641.5,540.9 L641.8,542.4 L642.1,541.8 L642.4,541.8 L642.8,540.4 L643.1,539.2 L643.4,536.0 L643.4,542.2 L643.3,536.6 L643.3,544.8 L643.2,555.4 L643.2,565.3 L643.2,562.3 L643.1,564.9 L643.1,580.8 L643.4,578.4 L643.7,579.2 L644.0,580.2 L644.4,577.4 L644.7,577.0 L645.0,568.0 L645.2,550.4 L645.4,554.9 L645.6,547.0 L645.8,546.4 L646.1,547.0 L646.5,548.6 L646.8,547.0 L647.2,548.9 L647.5,555.8 L647.9,557.0 L648.2,561.6 L648.5,561.0 L648.8,560.4 L649.2,559.4 L649.5,553.4 L649.8,548.8 L650.1,554.1 L650.5,566.4 L650.8,555.1 L651.2,565.7 L651.5,563.3 L651.9,560.6 L652.2,576.0 L652.5,571.8 L652.8,565.4 L653.2,565.4 L653.5,565.9 L653.8,564.8 L654.1,565.4 L654.3,580.3 L654.6,579.1 L654.8,578.5 L655.1,590.4 L655.4,586.6 L655.7,583.1 L656.0,586.9 L656.4,582.7 L656.7,583.3 L657.0,579.2 L657.1,560.8 L657.3,550.0 L657.4,561.4 L657.5,562.3 L657.7,560.5 L657.8,545.6 L658.1,545.0 L658.4,542.8 L658.8,540.1 L659.1,531.7 L659.4,529.6 L659.8,520.6 L660.2,520.0 L660.5,520.6 L660.8,527.4 L661.2,544.4 L661.5,532.5 L661.8,548.8 L662.1,555.2 L662.4,555.9 L662.8,555.7 L663.1,557.6 L663.4,560.0 L663.7,544.6 L664.0,550.7 L664.4,537.1 L664.7,538.1 L665.0,536.0 L665.2,521.3 L665.4,518.8 L665.6,511.2 L665.7,502.2 L665.9,511.7 L666.1,501.6 L666.4,505.4 L666.8,513.1 L667.1,519.4 L667.4,520.0 L667.7,531.5 L668.0,531.5 L668.4,524.0 L668.7,528.6 L669.0,544.0 L669.3,542.8 L669.7,543.4 L670.0,542.8 L670.4,540.8 L670.7,539.8 L671.1,539.8 L671.4,539.2 L671.8,532.5 L672.1,524.3 L672.5,520.0 L672.8,515.7 L673.2,514.3 L673.5,512.8 L673.8,511.2 L674.1,521.8 L674.4,523.6 L674.8,532.9 L675.1,531.5 L675.4,536.0 L675.7,535.4 L676.0,535.4 L676.4,530.8 L676.7,523.7 L677.0,520.0 L677.3,521.0 L677.6,525.8 L678.0,523.7 L678.3,526.4 L678.5,532.2 L678.7,542.7 L679.0,540.5 L679.2,553.8 L679.4,554.4 L679.7,550.6 L680.1,549.9 L680.4,542.4 L680.8,553.8 L681.1,546.8 L681.5,548.2 L681.8,537.6 L682.1,538.2 L682.4,538.2 L682.8,539.9 L683.1,545.2 L683.4,542.6 L683.7,543.3 L684.0,545.2 L684.4,544.8 L684.7,548.8 L685.1,546.2 L685.4,531.2 L685.8,529.6 L686.1,524.7 L686.4,517.6 L686.8,522.5 L687.1,517.9 L687.4,514.4 L687.7,519.0 L688.1,523.7 L688.4,531.4 L688.8,525.2 L689.1,531.4 L689.5,532.0 L689.7,524.3 L690.0,528.7 L690.3,498.2 L690.5,516.2 L690.8,513.8 L691.1,497.6 L691.4,505.7 L691.7,505.6 L692.0,508.4 L692.4,510.0 L692.7,505.7 L693.0,513.6 L693.3,513.0 L693.7,513.0 L694.0,512.6 L694.4,512.6 L694.7,512.6 L695.1,512.8 L695.4,512.0 L695.7,497.3 L696.0,507.5 L696.4,494.1 L696.7,486.2 L697.0,485.6 L697.3,484.5 L697.6,483.9 L698.0,484.6 L698.3,485.0 L698.6,485.0 L698.9,484.0 L699.2,484.1 L699.6,483.5 L699.9,483.0 L700.2,482.4 L700.5,483.2 L700.8,491.4 L701.2,497.1 L701.5,503.4 L701.8,504.0 L702.2,504.6 L702.5,504.6 L702.9,505.9 L703.2,503.3 L703.6,500.9 L703.9,487.1 L704.2,482.9 L704.6,482.6 L704.9,478.9 L705.2,478.3 L705.5,480.8 L705.8,486.2 L706.2,482.1 L706.5,489.5 L706.8,495.0 L707.1,498.6 L707.4,494.7 L707.7,498.6 L708.1,499.2 L708.4,500.7 L708.7,501.1 L709.0,500.2 L709.3,501.0 L709.6,500.7 L710.0,500.5 L710.3,500.9 L710.6,502.1 L710.9,503.0 L711.0,503.8 L711.0,508.1 L711.1,509.0 L711.2,513.0 L711.2,525.9 L711.3,533.4 L711.6,532.3 L712.0,531.0 L712.3,531.3 L712.7,526.6 L713.0,527.4 L713.3,522.6 L713.7,522.6 L714.0,523.0 L714.4,522.8 L714.7,522.0 L715.1,528.3 L715.4,534.7 L715.8,532.3 L716.1,539.5 L716.5,538.3 L716.8,536.2 L717.2,540.1 L717.4,530.4 L717.6,527.3 L717.8,513.0 L718.1,523.6 L718.3,522.0 L718.5,506.8 L718.8,503.2 L719.1,503.6 L719.4,503.7 L719.7,496.8 L720.0,491.6 L720.4,491.0 L720.7,490.7 L721.0,487.7 L721.4,484.0 L721.7,480.7 L722.1,481.4 L722.4,475.5 L722.8,474.5 L723.1,477.1 L723.5,473.7 L723.8,472.6 L724.2,469.7 L724.5,465.6 L724.8,465.6 L725.2,465.0 L725.5,465.6 L725.8,465.9 L726.1,465.6 L726.4,467.3 L726.7,467.5 L727.1,468.8 L727.2,462.7 L727.3,453.4 L727.5,445.7 L727.6,442.9 L727.7,439.7 L727.9,433.8 L728.0,432.7 L728.3,433.3 L728.7,439.8 L729.0,437.7 L729.3,442.4 L729.6,445.4 L730.0,445.4 L730.3,446.0 L730.5,445.4 L730.7,445.4 L731.0,435.8 L731.2,434.1 L731.4,420.4 L731.8,430.9 L732.1,431.4 L732.4,437.8 L732.8,432.1 L733.1,434.2 L733.4,437.8 L733.8,437.8 L734.1,438.4 L734.4,437.8 L734.8,420.0 L735.1,437.8 L735.5,421.3 L735.9,418.8 L736.2,410.6 L736.6,408.0 L736.9,408.6 L737.2,413.7 L737.5,416.3 L737.8,425.5 L738.1,421.0 L738.5,426.1 L738.7,416.5 L738.9,414.3 L739.1,405.1 L739.3,394.1 L739.6,399.6 L739.8,392.8 L740.1,391.1 L740.4,390.8 L740.7,391.4 L741.1,391.9 L741.4,390.5 L741.7,389.0 L742.0,393.5 L742.3,390.2 L742.6,398.8 L743.0,401.7 L743.3,415.5 L743.6,416.6 L743.9,403.3 L744.3,399.5 L744.6,415.2 L745.0,392.5 L745.3,404.8 L745.7,391.9 L746.0,398.8 L746.3,392.5 L746.7,400.6 L747.0,398.3 L747.3,405.0 L747.6,406.2 L748.0,408.0 L748.3,412.0 L748.6,410.4 L749.0,422.3 L749.3,424.2 L749.6,421.4 L749.9,423.3 L750.2,423.1 L750.6,419.5 L750.9,416.3 L751.2,413.7 L751.5,412.4 L751.9,411.6 L752.2,409.9 L752.6,408.4 L753.0,407.7 L753.3,407.7 L753.7,407.1 L754.0,416.1 L754.3,410.1 L754.6,429.0 L754.9,428.9 L755.2,419.2 L755.6,432.7 L755.9,432.0 L756.3,430.1 L756.6,424.2 L757.0,414.1 L757.3,408.6 L757.7,408.6 L758.0,408.0 L758.4,400.6 L758.7,399.1 L759.0,398.8 L759.4,395.7 L759.7,395.1 L760.1,395.1 L760.4,394.0 L760.8,393.1 L761.1,389.6 L761.5,389.6 L761.8,389.0 L762.2,394.4 L762.5,393.2 L762.8,397.0 L763.2,397.6 L763.5,397.0 L763.9,396.9 L764.2,397.0 L764.6,390.9 L764.9,393.1 L765.3,389.4 L765.6,387.1 L766.0,387.7 L766.3,392.4 L766.6,388.0 L766.9,391.4 L767.3,395.1 L767.6,394.2 L767.9,399.5 L768.2,396.3 L768.5,397.1 L768.9,397.5 L769.2,391.5 L769.5,385.8 L769.8,383.0 L770.1,381.1 L770.4,381.1 L770.8,380.5 L771.1,381.3 L771.4,381.1 L771.7,381.1 L772.0,386.7 L772.3,387.2 L772.7,390.9 L773.0,395.0 L773.3,402.8 L773.6,405.2 L773.9,416.4 L774.2,413.9 L774.6,406.8 L774.9,415.5 L775.2,421.3 L775.5,423.2 L775.8,423.8 L776.2,423.8 L776.5,426.6 L776.8,428.8 L777.1,434.4 L777.5,435.2 L777.8,437.5 L778.1,429.6 L778.4,432.6 L778.7,432.7 L779.0,430.1 L779.3,417.5 L779.6,416.9 L780.0,415.9 L780.3,415.8 L780.6,415.3 L780.9,415.4 L781.3,415.3 L781.6,414.7 L781.9,415.3 L782.3,415.3 L782.6,421.6 L783.0,418.7 L783.3,437.8 L783.7,438.4 L784.0,437.8 L784.3,437.8 L784.7,437.8 L785.0,431.8 L785.3,428.8 L785.6,423.6 L786.0,413.7 L786.3,426.8 L786.6,429.6 L786.9,432.5 L787.2,431.7 L787.5,429.3 L787.9,438.4 L788.2,434.8 L788.5,430.7 L788.8,431.9 L789.1,428.2 L789.4,424.2 L789.8,423.2 L790.1,429.7 L790.4,437.5 L790.7,438.9 L791.0,440.7 L791.3,437.9 L791.7,441.3 L792.0,443.2 L792.3,441.9 L792.6,450.6 L792.9,451.1 L793.2,447.5 L793.6,451.7 L793.9,449.3 L794.2,447.3 L794.5,445.7 L794.8,445.8 L795.1,444.9 L795.5,444.7 L795.8,444.7 L796.1,444.7 L796.4,444.1 L796.7,444.7 L797.0,446.0 L797.4,448.5 L797.7,450.2 L798.0,454.8 L798.3,463.1 L798.6,462.5 L798.9,457.5 L799.2,458.7 L799.5,457.0 L799.8,447.9 L800.2,451.9 L800.5,449.3 L800.8,457.1 L801.1,459.0 L801.5,457.1 L801.8,460.2 L802.1,466.9 L802.4,469.9 L802.7,470.5 L803.0,471.4 L803.3,472.2 L803.6,473.6 L804.0,470.3 L804.3,462.7 L804.6,456.1 L805.0,455.5 L805.3,454.9 L805.6,454.9 L805.9,454.3 L806.2,454.5 L806.5,452.2 L806.9,449.8 L807.2,451.3 L807.6,452.7 L807.9,450.7 L808.3,457.2 L808.6,455.2 L809.0,464.4 L809.3,465.0 L809.7,464.3 L810.0,460.4 L810.3,454.9 L810.6,454.6 L810.9,456.8 L811.2,447.9 L811.6,451.0 L811.9,453.7 L812.2,454.9 L812.5,463.8 L812.9,460.6 L813.2,464.1 L813.5,465.0 L813.8,470.5 L814.1,471.5 L814.5,469.0 L814.8,470.8 L815.1,477.3 L815.4,480.2 L815.7,479.6 L816.1,477.5 L816.4,478.0 L816.7,473.7 L817.0,477.1 L817.4,471.3 L817.7,470.7 L818.0,473.1 L818.4,473.4 L818.8,471.3 L819.1,481.0 L819.5,481.5 L819.8,491.6 L820.2,495.4 L820.5,486.0 L820.8,485.8 L821.1,476.4 L821.4,482.2 L821.7,491.3 L822.1,497.7 L822.4,494.7 L822.7,502.4 L823.0,495.2 L823.3,498.0 L823.7,499.8 L824.0,503.0 L824.3,499.6 L824.6,502.4 L824.9,497.9 L825.2,491.4 L825.6,488.4 L825.9,487.8 L826.1,486.3 L826.3,474.1 L826.6,468.8 L826.8,466.9 L827.1,465.4 L827.4,466.3 L827.7,464.8 L828.0,465.0 L828.3,463.1 L828.7,468.8 L829.0,473.4 L829.3,479.6 L829.7,480.2 L830.0,483.6 L830.3,485.3 L830.6,489.8 L830.9,490.9 L831.3,495.4 L831.6,499.2 L831.9,505.8 L832.2,504.5 L832.5,504.0 L832.8,501.1 L833.2,511.5 L833.5,514.4 L833.8,523.1 L834.1,524.9 L834.4,525.8 L834.7,516.0 L835.1,515.5 L835.4,510.7 L835.7,511.8 L836.0,509.9 L836.3,506.8 L836.6,505.5 L837.0,504.2 L837.3,505.5 L837.6,506.2 L837.9,505.8 L838.2,505.5 L838.5,503.6 L838.9,504.0 L839.2,503.0 L839.5,502.9 L839.8,502.7 L840.1,502.5 L840.4,502.4 L840.8,502.2 L841.1,502.1 L841.4,502.7 L841.8,502.7 L842.1,502.7 L842.5,510.1 L842.8,505.5 L843.2,510.8 L843.5,514.4 L843.9,515.4 L844.2,516.5 L844.5,517.6 L844.9,518.2 L845.2,518.8 L845.5,524.5 L845.8,520.9 L846.1,532.8 L846.5,529.5 L846.8,533.4 L847.2,534.6 L847.5,534.2 L847.9,536.0 L848.1,545.6 L848.3,547.4 L848.5,543.4 L848.7,556.9 L849.0,556.3 L849.4,556.3 L849.7,554.9 L850.1,551.8 L850.4,551.4 L850.8,549.9 L851.2,549.3 L851.5,556.3 L851.8,551.4 L852.1,559.2 L852.4,559.5 L852.7,581.0 L853.1,581.6 L853.4,584.3 L853.7,587.3 L854.0,588.3 L854.3,596.1 L854.6,598.5 L855.0,599.7 L855.3,599.1 L855.6,599.1 L855.9,599.1 L856.2,593.4 L856.5,594.7 L856.9,591.1 L857.1,606.7 L857.4,607.6 L857.7,597.1 L857.9,606.6 L858.2,619.6 L858.4,601.4 L858.6,614.5 L858.8,588.5 L859.1,605.6 L859.3,595.4 L859.5,582.2 L859.7,581.6 L860.0,581.0 L860.3,577.0 L860.7,572.1 L861.0,563.5 L861.3,562.1 L861.6,553.1 L861.9,553.7 L862.2,561.9 L862.6,561.3 L862.9,555.8 L863.2,564.2 L863.5,574.0 L863.7,572.4 L863.9,553.6 L864.2,551.8 L864.4,544.0 L864.6,552.0 L864.8,546.0 L865.0,538.9 L865.3,541.3 L865.7,553.2 L866.0,555.3 L866.3,554.0 L866.6,555.4 L866.9,558.8 L867.2,567.3 L867.6,582.3 L867.9,572.1 L868.2,576.0 L868.6,569.1 L868.9,584.9 L869.2,590.2 L869.5,586.0 L869.8,580.4 L870.2,578.6 L870.5,574.6 L870.8,574.9 L871.1,574.0 L871.4,573.4 L871.7,570.2 L872.1,573.1 L872.4,572.6 L872.7,571.7 L873.0,569.3 L873.3,569.9 L873.6,572.2 L873.9,576.9 L874.2,580.6 L874.5,583.5 L874.8,580.0 L875.2,580.8 L875.5,574.7 L875.8,575.0 L876.1,567.0 L876.4,566.4 L876.8,559.9 L877.1,556.8 L877.4,557.0 L877.8,543.6 L878.1,538.2 L878.4,543.0 L878.7,530.9 L879.0,519.1 L879.3,515.7 L879.7,515.1 L880.0,509.6 L880.3,506.2 L880.6,505.6 L880.9,506.2 L881.2,507.1 L881.6,506.2 L881.9,516.2 L882.2,515.0 L882.5,519.9 L882.8,524.6 L883.1,522.4 L883.5,530.3 L883.7,518.1 L884.0,509.2 L884.3,504.2 L884.5,521.1 L884.8,500.9 L885.1,500.3 L885.4,498.0 L885.7,491.5 L886.0,494.4 L886.3,484.7 L886.6,486.4 L886.9,488.4 L887.3,491.7 L887.6,498.8 L887.9,500.8 L888.2,505.6 L888.5,505.0 L888.8,499.1 L889.2,482.4 L889.5,481.4 L889.8,480.6 L890.1,480.0 L890.4,480.6 L890.7,481.5 L891.1,485.5 L891.4,490.0 L891.7,504.1 L892.0,506.6 L892.3,502.5 L892.7,503.7 L893.0,496.9 L893.3,503.2 L893.6,496.5 L894.0,487.9 L894.3,485.7 L894.5,501.2 L894.8,492.9 L895.0,504.4 L895.3,499.1 L895.6,516.4 L895.8,517.0 L896.1,518.2 L896.4,521.7 L896.8,517.8 L897.1,521.6 L897.4,518.9 L897.7,520.9 L898.0,524.0 L898.3,526.4 L898.7,528.4 L899.0,533.3 L899.3,530.9 L899.6,538.4 L899.9,537.1 L900.2,539.2 L900.6,539.8 L900.9,540.4 L901.2,543.9 L901.5,541.3 L901.9,547.4 L902.2,543.2 L902.5,548.5 L902.8,552.2 L903.1,548.8 L903.4,541.3 L903.8,542.8 L904.1,535.0 L904.4,522.7 L904.7,521.9 L905.1,520.8 L905.4,519.7 L905.8,519.7 L906.1,520.5 L906.5,519.5 L906.8,518.9 L907.2,517.4 L907.5,511.9 L907.8,505.4 L908.2,503.7 L908.5,504.3 L908.8,504.3 L909.1,509.7 L909.4,512.6 L909.7,516.1 L910.1,524.6 L910.4,527.8 L910.7,535.9 L911.0,539.2 L911.3,539.2 L911.6,539.8 L911.9,534.8 L912.2,531.8 L912.6,528.4 L912.9,524.4 L913.2,521.4 L913.5,523.6 L913.9,520.8 L914.2,521.4 L914.5,523.0 L914.8,523.7 L915.1,522.2 L915.4,531.0 L915.8,536.0 L916.1,535.4 L916.5,533.2 L916.8,533.8 L917.2,528.2 L917.5,533.0 L917.9,521.4 L918.2,520.8 L918.6,515.4 L918.9,500.9 L919.3,500.8 L919.6,505.4 L919.9,498.0 L920.2,506.3 L920.5,507.4 L920.9,514.5 L921.2,514.5 L921.5,515.1 L921.8,517.8 L922.1,520.7 L922.5,522.1 L922.8,522.7 L923.1,522.1 L923.5,517.9 L923.8,519.4 L924.2,514.2 L924.6,506.2 L924.9,509.0 L925.3,505.6 L925.6,506.2 L925.9,521.4 L926.2,527.4 L926.6,531.5 L926.9,531.2 L927.2,532.5 L927.5,533.2 L927.8,532.6 L928.1,527.6 L928.5,524.8 L928.8,513.8 L929.1,513.2 L929.4,512.0 L929.8,512.6 L930.1,512.6 L930.5,512.1 L930.8,511.2 L931.2,510.5 L931.5,509.4 L931.8,510.0 L932.2,512.3 L932.5,512.9 L932.8,511.9 L933.1,519.2 L933.4,522.7 L933.8,532.7 L934.1,526.6 L934.4,535.4 L934.8,536.0 L935.1,536.6 L935.4,539.4 L935.7,543.3 L936.0,545.9 L936.3,545.9 L936.7,546.5 L937.0,545.9 L937.3,544.8 L937.6,544.4 L937.9,545.0 L938.2,544.4 L938.6,543.6 L938.8,544.2 L939.1,544.6 L939.4,568.4 L939.7,559.5 L940.0,572.5 L940.3,561.6 L940.6,567.9 L940.8,584.5 L941.1,570.2 L941.5,572.9 L941.8,573.6 L942.1,563.2 L942.4,562.6 L942.7,563.2 L943.0,571.1 L943.3,570.5 L943.6,567.1 L943.9,573.4 L944.3,574.0 L944.6,572.9 L944.9,566.1 L945.3,559.1 L945.6,557.9 L945.9,557.1 L946.2,553.0 L946.5,551.7 L946.9,549.9 L947.2,549.9 L947.5,549.3 L947.8,550.8 L948.1,554.7 L948.4,553.5 L948.8,554.2 L949.1,555.9 L949.4,556.9 L949.7,557.5 L950.0,558.5 L950.3,563.3 L950.7,565.8 L951.0,565.8 L951.3,566.4 L951.6,574.7 L951.9,574.7 L952.2,578.9 L952.6,575.9 L952.9,576.8 L953.2,581.6 L953.5,579.3 L953.9,572.9 L954.3,569.4 L954.6,572.7 L955.0,571.6 L955.3,567.0 L955.7,566.4 L956.0,565.5 L956.3,564.2 L956.6,560.9 L956.9,557.9 L957.2,553.3 L957.6,548.4 L957.9,550.2 L958.2,561.2 L958.5,549.0 L958.8,555.7 L959.1,572.0 L959.5,574.0 L959.8,574.6 L960.1,574.6 L960.4,575.3 L960.7,577.2 L961.0,577.2 L961.4,577.8 L961.7,575.6 L962.0,566.6 L962.3,570.0 L962.6,564.1 L962.9,561.3 L963.3,560.7 L963.6,561.3 L963.9,561.3 L964.2,561.3 L964.5,562.5 L964.8,562.7 L965.2,563.6 L965.5,569.5 L965.8,578.3 L966.1,572.0 L966.4,570.7 L966.7,576.0 L967.1,581.6 L967.4,581.0 L967.7,580.9 L968.0,581.0 L968.3,580.0 L968.7,580.4 L969.0,580.0 L969.3,578.4 L969.6,578.9 L969.9,577.8 L969.7,578.4 L969.4,592.3 L969.2,587.8 L969.0,600.6 L969.3,603.6 L969.6,604.5 L969.9,602.6 L970.2,612.8 L970.6,615.3 L970.9,617.7 L971.2,622.7 L971.5,619.3 L971.8,625.3 L972.1,625.9 L972.4,628.3 L972.7,628.4 L973.0,630.6 L973.3,638.6 L973.6,633.8 L973.9,620.0 L974.1,614.8 L974.4,616.3 L974.7,612.0 L975.0,612.6 L975.4,620.1 L975.7,617.6 L976.1,626.6 L976.4,626.6 L976.8,626.6 L977.1,627.2 L977.5,621.0 L977.8,618.9 L978.1,616.5 L978.4,615.4 L978.8,615.1 L979.1,612.1 L979.4,610.1 L979.7,610.7 L980.1,610.7 L980.4,616.8 L980.7,614.1 L981.0,615.3 L981.3,621.5 L981.7,620.9 L982.0,620.9 L982.4,620.9 L982.7,619.4 L983.1,619.0 L983.4,616.7 L983.8,614.9 L984.1,616.9 L984.4,618.4 L984.7,617.2 L985.1,618.6 L985.4,620.3 L985.7,622.5 L985.9,621.9 L986.1,621.9 L986.4,612.4 L986.6,605.9 L986.8,596.1 L987.0,589.2 L987.3,588.2 L987.6,588.3 L987.9,587.9 L988.2,587.9 L988.5,587.3 L988.9,588.4 L989.2,592.8 L989.5,587.9 L989.9,596.5 L990.2,594.3 L990.5,604.9 L990.9,601.0 L991.2,613.9 L991.5,614.2 L991.8,614.5 L992.1,614.8 L992.3,613.0 L992.6,612.2 L992.8,606.8 L993.1,592.0 L993.4,584.8 L993.7,585.6 L994.0,582.1 L994.3,579.2 L994.6,580.8 L995.0,576.8 L995.3,582.2 L995.6,581.3 L995.9,582.2 L996.2,583.3 L996.5,584.3 L996.9,586.3 L997.2,578.1 L997.5,584.3 L997.8,585.5 L998.1,572.0 L998.4,581.4 L998.8,568.3 L999.1,568.9 L999.4,570.3 L999.7,570.1 L1000.0,570.5 L1000.3,570.5 L1000.7,571.1 L1000.7,556.9 L1000.8,570.5 L1000.8,553.6 L1000.9,556.5 L1001.0,555.7 L1001.0,537.5 L1001.1,532.8 L1001.2,526.1 L1001.2,525.5 L1001.5,524.9 L1001.9,520.1 L1002.2,519.2 L1002.5,519.1 L1002.8,518.6 L1003.1,514.1 L1003.4,514.7 L1003.8,514.7 L1004.1,518.2 L1004.4,519.2 L1004.7,517.5 L1005.0,519.8 L1005.4,519.2 L1005.7,515.6 L1006.0,512.5 L1006.4,500.8 L1006.7,500.2 L1007.1,495.3 L1007.4,494.0 L1007.8,500.2 L1008.1,495.4 L1008.5,488.1 L1008.8,487.5 L1009.1,491.5 L1009.5,488.1 L1009.8,488.1 L1010.1,490.3 L1010.5,492.4 L1010.8,496.4 L1011.1,497.0 L1011.4,497.6 L1011.7,502.8 L1012.1,497.6 L1012.4,504.3 L1012.7,511.0 L1013.0,519.8 L1013.3,521.2 L1013.6,520.4 L1014.0,520.4 L1014.3,520.4 L1014.6,522.4 L1014.9,521.8 L1015.2,521.5 L1015.5,522.9 L1015.9,523.6 L1016.2,519.2 L1016.5,505.6 L1016.9,503.3 L1017.2,502.7 L1017.5,502.1 L1017.9,502.1 L1018.2,501.8 L1018.6,500.5 L1018.9,500.5 L1019.3,500.5 L1019.7,499.9 L1020.0,500.8 L1020.3,501.8 L1020.6,508.8 L1020.9,504.7 L1021.2,515.2 L1021.6,519.8 L1021.9,519.2 L1022.3,515.6 L1022.6,515.2 L1023.0,509.9 L1023.3,517.0 L1023.7,507.9 L1024.0,502.7 L1024.3,516.9 L1024.5,518.1 L1024.8,520.8 L1025.1,514.7 L1025.4,514.3 L1025.7,498.2 L1026.0,495.7 L1026.3,495.1 L1026.6,490.6 L1026.9,493.6 L1027.2,490.8 L1027.5,489.0 L1027.8,486.6 L1028.1,491.8 L1028.5,489.9 L1028.8,489.3 L1029.1,490.2 L1029.4,494.0 L1029.7,497.0 L1030.1,502.3 L1030.4,507.0 L1030.7,511.6 L1031.1,512.2 L1031.4,513.8 L1031.8,514.0 L1032.1,512.9 L1032.5,514.7 L1032.8,515.4 L1033.2,515.3 L1033.5,516.0 L1033.9,516.6 L1034.2,520.0 L1034.5,519.3 L1034.8,526.0 L1035.2,529.1 L1035.5,527.8 L1035.8,536.0 L1036.1,530.9 L1036.4,529.7 L1036.8,535.4 L1037.1,534.1 L1037.4,530.2 L1037.7,529.2 L1038.0,522.6 L1038.3,516.6 L1038.7,516.0 L1039.0,515.1 L1039.3,515.4 L1039.6,514.8 L1039.9,514.2 L1040.2,510.0 L1040.6,509.4 L1040.9,510.0 L1041.2,516.5 L1041.5,515.7 L1041.8,521.1 L1042.1,520.6 L1042.5,521.7 L1042.8,522.3 L1043.1,522.3 L1043.4,522.3 L1043.7,524.9 L1044.0,524.7 L1044.4,527.4 L1044.7,528.1 L1045.0,528.8 L1045.3,535.6 L1045.6,540.6 L1045.9,537.8 L1046.3,542.6 L1046.6,538.9 L1047.0,537.1 L1047.3,536.5 L1047.7,538.0 L1048.0,536.4 L1048.4,535.6 L1048.7,535.0 L1049.1,546.5 L1049.4,543.7 L1049.7,543.2 L1050.0,550.1 L1050.4,543.3 L1050.7,554.2 L1051.0,555.9 L1051.3,555.3 L1051.6,544.5 L1052.0,538.7 L1052.3,535.1 L1052.6,537.5 L1052.9,533.1 L1053.2,530.1 L1053.5,525.9 L1053.8,525.2 L1054.1,526.3 L1054.4,524.6 L1054.7,529.6 L1055.1,525.2 L1055.4,530.9 L1055.7,533.1 L1056.0,537.9 L1056.3,539.8 L1056.7,539.2 L1057.0,536.9 L1057.4,534.4 L1057.7,532.5 L1058.0,524.6 L1058.4,526.4 L1058.7,527.9 L1059.1,525.5 L1059.5,530.9 L1059.8,536.0 L1060.2,536.3 L1060.5,536.9 L1060.8,537.5 L1061.2,537.5 L1061.5,537.8 L1061.8,540.1 L1062.1,540.0 L1062.5,540.1 L1062.8,540.7 L1063.1,541.3 L1063.5,544.7 L1063.8,543.5 L1064.2,547.7 L1064.6,544.6 L1064.9,546.7 L1065.3,550.2 L1065.6,551.4 L1065.9,556.1 L1066.2,557.9 L1066.6,561.0 L1066.9,559.7 L1067.2,561.0 L1067.5,561.6 L1067.8,559.4 L1068.1,557.5 L1068.5,547.0 L1068.8,547.0 L1069.1,546.4 L1069.4,546.6 L1069.7,546.7 L1070.0,546.9 L1070.3,547.0 L1070.6,547.2 L1071.0,547.4 L1071.3,542.4 L1071.6,536.4 L1071.9,534.1 L1072.2,532.2 L1072.5,530.9 L1072.9,530.3 L1073.2,529.7 L1073.5,529.7 L1073.8,529.7 L1074.1,529.0 L1074.4,529.0 L1074.8,528.4 L1075.1,529.0 L1075.4,531.3 L1075.7,530.5 L1076.0,533.1 L1076.3,536.3 L1076.7,540.7 L1077.0,535.8 L1077.3,528.0 L1077.6,522.5 L1077.9,521.4 L1078.2,520.8 L1078.5,521.4 L1078.8,521.4 L1079.1,538.7 L1079.4,526.2 L1079.8,544.9 L1080.1,545.5 L1080.4,538.5 L1080.7,542.3 L1081.0,540.0 L1081.3,539.0 L1081.7,538.8 L1082.0,533.1 L1082.3,534.9 L1082.6,539.1 L1083.0,539.8 L1083.3,545.8 L1083.6,541.6 L1083.9,545.8 L1084.3,546.4 L1084.6,543.6 L1084.9,542.6 L1085.2,541.9 L1085.5,540.4 L1085.8,540.4 L1086.2,539.8 L1086.5,544.0 L1086.9,547.1 L1087.2,555.1 L1087.6,556.1 L1087.9,553.3 L1088.3,557.7 L1088.6,558.8 L1089.0,558.2 L1089.3,552.6 L1089.7,554.5 L1090.0,540.8 L1090.3,532.2 L1090.7,533.2 L1091.0,532.8 L1091.4,540.5 L1091.7,546.3 L1092.1,544.6 L1092.4,550.2 L1092.8,546.0 L1093.1,542.5 L1093.4,530.6 L1093.7,534.9 L1094.1,533.5 L1094.4,530.9 L1094.7,528.4 L1095.0,529.1 L1095.3,529.1 L1095.7,531.9 L1096.0,533.5 L1096.3,533.2 L1096.6,534.1 L1096.9,528.5 L1097.2,525.7 L1097.6,524.4 L1097.9,523.8 L1098.2,520.4 L1098.5,519.8 L1098.8,512.4 L1099.1,510.8 L1099.4,495.7 L1099.7,500.3 L1100.0,495.1 L1100.4,494.9 L1100.7,494.8 L1101.0,494.6 L1101.3,494.5 L1101.6,494.3 L1101.9,494.2 L1102.3,493.6 L1102.6,492.2 L1102.9,488.8 L1103.2,486.5 L1103.6,486.1 L1103.9,485.3 L1104.2,484.7 L1104.5,486.7 L1104.8,485.3 L1105.2,487.8 L1105.5,492.8 L1105.8,494.8 L1106.1,498.9 L1106.4,498.3 L1106.7,497.3 L1107.1,498.3 L1107.4,496.8 L1107.7,495.2 L1108.0,493.2 L1108.3,496.6 L1108.7,493.8 L1109.0,498.3 L1109.3,496.2 L1109.6,498.3 L1110.0,498.2 L1110.3,498.9 L1110.6,499.7 L1110.9,502.8 L1111.2,502.6 L1111.6,503.4 L1111.9,511.0 L1112.2,517.9 L1112.6,517.3 L1112.9,516.8 L1113.3,514.7 L1113.6,515.8 L1114.0,515.3 L1114.3,515.2 L1114.7,514.1 L1115.0,509.5 L1115.3,513.0 L1115.6,501.2 L1115.9,497.6 L1116.3,498.7 L1116.6,497.0 L1116.9,490.1 L1117.2,490.2 L1117.6,486.6 L1117.9,485.6 L1118.3,486.2 L1118.6,486.2 L1119.0,491.2 L1119.3,487.1 L1119.7,490.5 L1120.0,496.0 L1120.4,499.9 L1120.7,499.3 L1121.1,495.4 L1121.4,499.1 L1121.8,492.0 L1122.1,483.5 L1122.5,485.1 L1122.8,479.9 L1123.2,487.5 L1123.5,481.4 L1123.8,486.4 L1124.1,496.1 L1124.4,494.1 L1124.7,497.0 L1125.0,505.4 L1125.2,516.1 L1125.5,519.2 L1125.7,519.8 L1126.0,513.8 L1126.4,516.9 L1126.7,508.9 L1127.0,497.0 L1127.3,497.6 L1127.7,497.6 L1128.0,498.5 L1128.3,498.9 L1128.6,500.5 L1129.0,501.0 L1129.3,504.6 L1129.7,509.7 L1130.0,505.2 L1130.4,513.5 L1130.7,515.4 L1131.1,515.4 L1131.4,514.6 L1131.8,516.0 L1132.2,519.2 L1132.5,520.2 L1132.9,521.1 L1133.2,519.8 L1133.6,520.0 L1133.9,522.6 L1134.3,522.8 L1134.6,524.0 L1135.0,517.7 L1135.3,518.2 L1135.7,515.3 L1136.0,512.6 L1136.4,512.0 L1136.7,511.4 L1137.0,501.2 L1137.4,500.6 L1137.7,500.6 L1138.1,499.4 L1138.4,498.8 L1138.8,497.8 L1139.1,498.2 L1139.4,496.4 L1139.7,497.1 L1140.0,495.8 L1140.3,498.4 L1140.6,500.1 L1140.9,501.8 L1141.2,502.4 L1141.5,503.0 L1141.8,505.6 L1142.1,509.8 L1142.4,511.4 L1142.8,512.0 L1143.1,513.4 L1143.4,513.4 L1143.8,512.8 L1144.1,515.7 L1144.5,519.2 L1144.8,519.8 L1145.1,517.9 L1145.4,516.7 L1145.7,515.8 L1146.0,512.0 L1146.3,509.2 L1146.6,506.1 L1146.9,505.6 L1147.2,503.6 L1147.5,503.0 L1147.8,498.0 L1148.1,497.1 L1148.4,496.4 L1148.7,495.8 L1149.0,492.7 L1149.3,488.6 L1149.6,488.0 L1149.9,486.6 L1150.2,482.0 L1150.6,482.9 L1150.9,482.6 L1151.3,482.8 L1151.6,483.8 L1152.0,484.4 L1152.3,487.4 L1152.6,485.3 L1152.8,488.0 L1153.0,486.2 L1153.2,472.4 L1153.4,479.3 L1153.6,467.6 L1153.8,458.9 L1154.1,458.6 L1154.4,458.0 L1154.7,459.4 L1155.1,461.3 L1155.4,463.4 L1155.8,463.2 L1156.1,463.4 L1156.4,464.0 L1156.8,468.6 L1157.1,470.5 L1157.4,468.7 L1157.7,468.1 L1158.0,471.2 L1158.3,470.6 L1158.6,469.3 L1158.9,465.0 L1159.2,461.6 L1159.5,452.6 L1159.8,458.1 L1160.2,450.2 L1160.5,454.4 L1160.8,457.4 L1161.1,454.7 L1161.4,458.0 L1161.7,461.3 L1162.1,464.5 L1162.4,465.2 L1162.7,466.1 L1163.0,466.1 L1163.3,471.8 L1163.6,472.4 L1164.0,468.1 L1164.3,471.8 L1164.6,466.4 L1165.0,467.0 L1165.3,467.0 L1165.7,467.1 L1166.0,468.2 L1166.4,468.8 L1166.7,469.4 L1167.0,479.6 L1167.3,490.0 L1167.6,494.0 L1168.0,493.8 L1168.3,493.5 L1168.7,493.3 L1169.0,493.0 L1169.4,492.8 L1169.7,500.8 L1170.0,502.4 L1170.3,506.2 L1170.6,515.0 L1170.8,515.6 L1171.2,510.7 L1171.5,510.3 L1171.8,506.9 L1172.1,506.0 L1172.4,504.8 L1172.7,510.3 L1173.0,523.4 L1173.3,525.8 L1173.6,526.4 L1173.9,524.3 L1174.2,524.1 L1174.5,515.3 L1174.8,512.0 L1175.1,508.6 L1175.4,509.4 L1175.7,508.1 L1176.0,503.6 L1176.3,502.5 L1176.6,502.7 L1176.9,503.0 L1177.2,501.8 L1177.6,501.2 L1177.9,501.8 L1178.2,501.8 L1178.5,505.4 L1178.8,507.2 L1179.1,508.3 L1179.5,508.9 L1179.8,511.4 L1180.2,512.0 L1180.6,512.9 L1180.9,512.6 L1181.3,514.9 L1181.6,519.2 L1182.0,519.8 L1182.4,517.8 L1182.7,514.1 L1183.1,514.1 L1183.4,513.5 L1183.8,512.0 L1184.1,506.3 L1184.4,507.3 L1184.7,505.4 L1185.0,504.8 L1185.3,503.7 L1185.6,502.4 L1185.9,496.4 L1186.2,495.8 L1186.5,496.4 L1186.8,506.5 L1187.1,504.9 L1187.4,507.2 L1187.7,507.8 L1188.0,507.8 L1188.3,512.6 L1188.6,515.6 L1189.0,515.0 L1189.3,514.5 L1189.7,511.8 L1190.0,510.8 L1190.4,509.6 L1190.7,519.3 L1191.0,514.3 L1191.3,521.9 L1191.6,524.0 L1191.9,527.8 L1192.2,525.1 L1192.5,539.0 L1192.8,542.0 L1193.1,541.4 L1193.4,536.2 L1193.7,532.3 L1194.0,528.8 L1194.3,525.4 L1194.6,521.0 L1194.9,518.6 L1195.2,518.0 L1195.6,517.4 L1195.9,516.8 L1196.3,516.5 L1196.6,516.2 L1197.0,515.6 L1197.4,517.3 L1197.7,516.4 L1198.1,520.2 L1198.4,521.6 L1198.8,524.2 L1199.1,523.1 L1199.4,523.6 L1199.7,526.7 L1200.0,528.8 L1200.3,532.7 L1200.6,535.1 L1200.9,534.8 L1201.2,536.0 L1201.6,536.6 L1201.9,539.0 L1202.3,538.2 L1202.6,538.4 L1203.0,539.6 L1203.3,539.0 L1203.6,537.5 L1203.9,536.6 L1204.2,536.0 L1204.5,537.8 L1204.8,541.3 L1205.1,542.3 L1205.4,548.0 L1205.7,550.8 L1206.0,556.8 L1206.2,565.0 L1206.4,569.8 L1206.5,567.3 L1206.7,580.0 L1207.0,579.4 L1207.3,575.7 L1207.7,575.8 L1208.0,571.5 L1208.3,570.1 L1208.6,570.3 L1208.9,570.1 L1209.2,569.5 L1209.5,572.5 L1209.8,570.1 L1210.2,572.3 L1210.5,576.4 L1210.8,578.5 L1211.0,577.7 L1211.3,576.8 L1211.7,575.5 L1212.0,575.8 L1212.2,572.5 L1212.5,573.1 L1212.8,575.8 L1213.2,579.6 L1213.5,579.3 L1213.8,589.0 L1214.1,578.6 L1214.5,577.0 L1214.8,575.7 L1215.1,574.0 L1215.4,567.1 L1215.7,563.5 L1216.0,564.4 L1216.3,564.5 L1216.6,566.7 L1216.9,568.0 L1217.2,569.5 L1217.5,570.1 L1217.8,571.1 L1218.1,573.4 L1218.4,573.4 L1218.7,574.0 L1219.0,573.3 L1219.3,572.9 L1219.6,572.5 L1219.9,572.5 L1220.2,571.0 L1220.3,572.3 L1220.5,589.8 L1220.7,594.4 L1220.8,595.0 L1221.0,596.1 L1221.2,601.3 L1221.5,609.1 L1221.7,617.5 L1222.0,626.8 L1222.2,637.9 L1222.5,634.1 L1222.8,640.0 L1222.8,640.6 L1222.8,645.8 L1222.8,656.5 L1223.0,655.9 L1223.3,655.9 L1223.7,654.5 L1224.0,651.6 L1224.2,650.5 L1224.5,643.3 L1224.7,640.0 L1225.0,640.6 L1225.3,641.7 L1225.6,647.8 L1225.9,661.6 L1226.2,662.5 L1226.5,661.9 L1226.9,658.5 L1227.2,652.0 L1227.5,644.2 L1227.7,643.9 L1227.9,637.7 L1228.1,638.4 L1228.3,625.0 L1228.6,622.1 L1228.9,607.2 L1229.2,610.0 L1229.5,604.2 L1229.8,602.5 L1230.1,603.1 L1230.4,607.5 L1230.7,614.5 L1231.0,625.0 L1231.3,631.4 L1231.6,637.2 L1231.9,640.8 L1232.2,643.0 L1232.5,645.0 L1232.9,647.8 L1233.2,647.4 L1233.6,650.3 L1234.0,651.4 L1234.3,652.8 L1234.6,639.3 L1234.9,641.9 L1235.2,639.5 L1235.5,634.0 L1235.8,633.4 L1236.1,629.9 L1236.4,621.9 L1236.7,624.0 L1237.0,619.0 L1237.4,616.0 L1237.7,618.4 L1238.1,614.8 L1238.4,608.5 L1238.8,607.0 L1239.1,608.1 L1239.4,618.7 L1239.7,616.8 L1240.0,622.2 L1240.3,631.0 L1240.6,630.4 L1240.9,625.6 L1241.2,612.4 L1241.5,610.0 L1241.8,607.4 L1242.2,602.6 L1242.5,594.2 L1242.8,599.7 L1243.2,606.8 L1243.5,609.0 L1243.8,610.0 L1244.0,612.3 L1244.3,621.3 L1244.7,618.0 L1245.0,618.4 L1245.2,629.5 L1245.6,630.1 L1245.9,630.4 L1246.2,630.1 L1246.5,630.1 L1246.8,630.4 L1247.2,630.4 L1247.5,630.4 L1247.8,631.0 L1248.1,617.8 L1248.4,616.6 L1248.7,616.0 L1249.0,611.5 L1249.3,607.9 L1249.6,607.4 L1249.9,606.1 L1250.2,605.5 L1250.5,615.0 L1250.8,614.6 L1251.1,620.2 L1251.4,621.4 L1251.7,622.0 L1252.0,612.1 L1252.4,615.6 L1252.8,604.0 L1253.0,603.4 L1253.3,603.2 L1253.7,601.1 L1254.0,600.1 L1254.2,599.5 L1254.6,600.5 L1254.9,600.1 L1255.2,600.5 L1255.5,600.9 L1255.9,601.1 L1256.2,601.8 L1256.3,613.7 L1256.5,621.4 L1256.7,621.4 L1256.8,622.0 L1257.1,621.4 L1257.5,618.5 L1257.8,614.8 L1258.1,613.6 L1258.4,614.9 L1258.8,613.0 L1259.1,624.2 L1259.5,625.0 L1259.6,631.6 L1259.7,639.4 L1259.8,640.0 L1260.0,649.6 L1260.1,655.1 L1260.2,655.8 L1260.6,654.6 L1260.9,655.1 L1261.2,649.5 L1261.5,643.9 L1261.9,645.8 L1262.2,635.5 L1262.5,646.2 L1262.9,647.1 L1263.2,652.0 L1263.6,644.5 L1264.0,646.8 L1264.3,643.0 L1264.6,643.6 L1264.9,653.0 L1265.2,656.0 L1265.5,658.0 L1265.9,659.8 L1266.2,670.0 L1265.9,669.4 L1265.5,664.0 L1265.8,666.9 L1266.2,666.9 L1266.5,671.4 L1266.8,686.1 L1266.7,686.7 L1266.5,697.2 L1266.3,703.1 L1266.6,716.0 L1266.9,714.0 L1267.2,716.9 L1267.4,720.6 L1267.7,731.9 L1267.8,732.5 L1267.8,742.8 L1267.9,753.6 L1267.9,748.2 L1268.0,752.1 L1268.0,765.9 L1268.2,770.9 L1268.4,784.6 L1268.5,793.9 L1268.7,793.9 L1268.9,794.8 L1269.1,794.2 L1269.3,794.1 L1269.5,781.2 L1269.7,793.2 L1269.9,765.5 L1270.0,758.0 L1270.2,757.4 L1270.3,756.4 L1270.4,751.7 L1270.4,754.0 L1270.5,737.4 L1270.6,731.9 L1270.6,718.3 L1270.7,716.7 L1270.8,715.0 L1270.8,699.2 L1270.9,704.5 L1270.9,685.0 L1271.0,686.5 L1271.0,685.7 L1271.1,684.4 L1271.2,696.8 L1271.4,708.6 L1271.5,700.4 L1271.7,709.9 L1271.8,714.4 L1271.9,715.0 L1272.2,729.3 L1272.4,728.1 L1272.6,731.9 L1272.9,732.5 L1273.2,739.9 L1273.4,740.3 L1273.7,749.4 L1274.0,760.8 L1274.3,751.3 L1274.7,745.0 L1275.0,750.3 L1275.3,740.7 L1275.7,735.3 L1276.0,738.2 L1276.4,741.8 L1276.7,752.8 L1277.0,753.5 L1277.4,761.9 L1277.7,762.5 L1278.1,765.1 L1278.4,769.2 L1278.7,769.6 L1279.1,770.2 L1279.4,763.2 L1279.8,761.2 L1280.1,756.3 L1280.4,755.7 L1280.6,744.1 L1280.9,744.7 L1281.1,735.9 L1281.3,735.3 L1281.6,735.9 L1282.0,747.8 L1282.3,747.5 L1282.6,749.6 L1283.0,751.7 L1283.3,752.3 L1283.6,744.0 L1283.9,735.6 L1284.2,742.7 L1284.5,731.9 L1284.8,732.5 L1285.1,732.7 L1285.5,733.8 L1285.8,736.7 L1286.1,735.7 L1286.4,737.2 L1286.7,738.7 L1286.9,727.4 L1287.1,732.3 L1287.4,731.2 L1287.6,715.0 L1287.9,710.1 L1288.2,711.8 L1288.5,705.9 L1288.8,698.0 L1289.1,698.6 L1289.4,706.3 L1289.8,713.5 L1290.1,718.3 L1290.4,724.2 L1290.7,726.4 L1291.0,737.0 L1291.3,727.3 L1291.5,721.7 L1291.8,720.0 L1292.2,723.6 L1292.5,736.8 L1292.8,735.7 L1293.2,736.7 L1293.5,740.4 L1293.8,737.7 L1294.1,730.8 L1294.4,730.8 L1294.7,730.2 L1295.0,731.4 L1295.4,733.1 L1295.7,736.9 L1296.1,747.2 L1296.4,747.8 L1296.7,748.3 L1297.1,747.8 L1297.4,747.9 L1297.8,748.9 L1298.1,749.5 L1298.4,750.5 L1298.8,750.6 L1299.1,756.0 L1299.5,753.9 L1299.8,759.1 L1300.1,759.7 L1300.5,759.7 L1300.8,764.0 L1301.2,764.6 L1301.5,766.8 L1301.8,764.5 L1302.2,766.2 L1302.5,765.7 L1302.9,764.2 L1303.2,760.8 L1303.4,746.0 L1303.6,748.3 L1303.8,745.6 L1304.0,732.0 L1304.2,731.1 L1304.6,731.7 L1304.9,731.7 L1305.2,739.4 L1305.6,740.1 L1305.9,745.5 L1306.2,737.1 L1306.5,737.1 L1306.8,736.5 L1307.1,720.9 L1307.3,729.6 L1307.6,733.8 L1307.8,739.1 L1308.1,745.8 L1308.3,746.4 L1308.6,742.6 L1309.0,740.2 L1309.3,745.8 L1309.7,735.9 L1310.0,728.5 L1310.3,729.1 L1310.6,729.1 L1310.9,729.1 L1311.3,729.1 L1311.6,729.5 L1311.9,729.6 L1312.2,730.2 L1312.5,730.8 L1312.8,733.9 L1313.1,735.9 L1313.4,737.9 L1313.7,737.3 L1314.1,722.5 L1314.4,724.9 L1314.8,721.7 L1315.0,715.7 L1315.3,714.1 L1315.6,709.9 L1315.9,713.5 L1316.3,712.0 L1316.6,713.2 L1317.0,719.6 L1317.3,721.7 L1317.6,708.3 L1317.9,710.1 L1318.2,710.1 L1318.5,699.7 L1318.8,700.3 L1319.2,700.3 L1319.5,710.1 L1319.9,708.4 L1320.2,718.3 L1320.5,709.4 L1320.9,708.9 L1321.2,706.0 L1321.6,698.8 L1321.9,698.2 L1322.2,691.3 L1322.6,693.5 L1322.9,689.2 L1323.3,688.6 L1323.4,689.9 L1323.5,703.6 L1323.7,713.7 L1323.8,718.6 L1324.0,718.6 L1324.1,719.2 L1324.4,719.4 L1324.8,719.5 L1325.1,719.7 L1325.5,719.9 L1325.8,720.0 L1326.0,708.9 L1326.3,702.3 L1326.5,697.2 L1326.8,693.5 L1327.0,692.9 L1327.3,692.3 L1327.7,691.8 L1328.0,691.2 L1328.3,691.8 L1328.7,692.8 L1329.0,695.8 L1329.4,698.5 L1329.7,704.2 L1330.0,704.8 L1330.4,701.3 L1330.7,704.2 L1331.1,701.6 L1331.4,697.5 L1331.7,695.4 L1332.1,695.2 L1332.4,695.0 L1332.8,694.8 L1333.1,694.6 L1333.4,696.1 L1333.8,695.2 L1334.1,697.3 L1334.5,697.7 L1334.8,703.1 L1335.0,690.5 L1335.2,683.1 L1335.4,678.0 L1335.6,682.2 L1335.8,672.8 L1336.0,670.8 L1336.3,670.8 L1336.7,670.8 L1337.0,670.8 L1337.4,670.8 L1337.7,670.8 L1338.0,676.0 L1338.3,681.1 L1338.6,675.2 L1339.0,680.8 L1339.3,682.9 L1339.6,682.4 L1339.9,682.9 L1340.2,683.5 L1340.6,680.4 L1340.9,681.0 L1341.3,661.2 L1341.6,669.1 L1341.9,660.6 L1342.3,661.3 L1342.6,661.2 L1343.0,661.2 L1343.3,662.5 L1343.6,662.6 L1344.0,664.0 L1344.2,658.1 L1344.3,661.3 L1344.5,647.0 L1344.8,641.8 L1345.2,640.8 L1345.5,635.7 L1345.8,635.7 L1346.2,635.1 L1346.3,634.5 L1346.4,615.7 L1346.6,608.4 L1346.7,623.0 L1346.8,607.8 L1347.2,608.4 L1347.5,608.4 L1347.8,609.9 L1348.2,612.0 L1348.5,611.4 L1348.9,610.9 L1349.2,601.8 L1349.6,598.0 L1349.9,597.4 L1350.3,594.8 L1350.6,591.6 L1350.9,591.6 L1351.3,591.0 L1351.7,601.3 L1352.0,605.7 L1352.4,607.8 L1352.7,601.4 L1353.1,607.2 L1353.4,600.8 L1353.7,601.7 L1354.1,594.5 L1354.5,600.9 L1354.8,605.8 L1355.2,606.4 L1355.5,607.0 L1355.9,607.0 L1356.2,608.6 L1356.6,608.6 L1357.0,608.6 L1357.3,609.2 L1357.7,610.9 L1358.0,621.8 L1358.3,617.7 L1358.7,613.8 L1359.0,615.5 L1359.4,616.9 L1359.8,611.2 L1360.1,610.6 L1360.4,611.2 L1360.7,615.5 L1361.0,612.6 L1361.3,618.8 L1361.6,614.3 L1361.9,620.4 L1362.2,610.7 L1362.4,613.5 L1362.7,612.4 L1362.9,598.7 L1363.2,600.7 L1363.5,610.5 L1363.8,609.3 L1364.1,611.4 L1364.4,607.8 L1364.7,612.0 L1365.0,602.4 L1365.4,602.3 L1365.7,600.8 L1366.0,603.0 L1366.4,608.2 L1366.7,617.6 L1367.0,617.0 L1367.3,616.8 L1367.6,615.8 L1367.9,614.9 L1368.2,613.3 L1368.5,612.0 L1368.8,612.6 L1369.2,621.2 L1369.6,620.5 L1369.9,623.2 L1370.2,626.5 L1370.6,624.3 L1371.0,626.5 L1371.3,627.6 L1371.7,626.9 L1372.0,628.8 L1371.9,629.4 L1371.9,633.3 L1371.8,641.4 L1371.7,652.6 L1372.0,652.0 L1372.4,646.1 L1372.7,650.4 L1373.0,633.6 L1373.4,639.3 L1373.7,633.0 L1374.0,633.8 L1374.4,646.3 L1374.7,645.3 L1375.1,649.8 L1375.4,650.4 L1375.6,665.3 L1375.9,666.6 L1376.3,654.0 L1376.6,652.1 L1376.9,654.0 L1377.3,649.0 L1377.6,648.4 L1377.7,662.6 L1377.8,664.7 L1377.9,659.9 L1378.1,671.4 L1378.2,680.0 L1378.3,680.6 L1378.6,677.0 L1378.9,666.3 L1379.2,665.0 L1379.5,661.7 L1379.8,665.3 L1380.1,661.0 L1380.5,667.8 L1380.8,662.2 L1381.1,665.2 L1381.5,672.7 L1381.8,676.4 L1382.1,665.9 L1382.4,664.5 L1382.7,656.6 L1383.0,666.0 L1383.3,662.3 L1383.6,649.8 L1383.9,665.2 L1384.2,656.5 L1384.6,669.9 L1384.9,672.2 L1385.2,671.2 L1385.5,665.7 L1385.8,662.4 L1386.1,660.2 L1386.4,665.5 L1386.7,659.6 L1387.0,660.2 L1387.4,660.2 L1387.8,663.2 L1388.1,668.0 L1388.4,666.3 L1388.8,656.0 L1389.2,660.0 L1389.5,655.4 L1389.8,657.6 L1390.2,659.8 L1390.6,664.5 L1390.9,673.6 L1391.2,674.2 L1391.6,674.2 L1392.0,674.7 L1392.3,675.8 L1392.7,675.8 L1393.0,676.4 L1393.2,675.8 L1393.3,660.2 L1393.5,662.4 L1393.7,654.0 L1394.1,650.3 L1394.4,641.4 L1394.8,636.8 L1395.1,638.0 L1395.5,636.4 L1395.8,635.8 L1396.2,634.9 L1396.5,634.8 L1396.8,631.9 L1397.2,630.9 L1397.6,636.2 L1397.9,637.4 L1398.3,645.6 L1398.7,645.0 L1399.0,642.7 L1399.3,641.0 L1399.7,637.1 L1400.0,636.5 L1400.3,637.1 L1400.7,646.9 L1401.1,644.1 L1401.4,652.6 L1401.7,661.1 L1402.0,664.1 L1402.2,675.7 L1402.5,677.2 L1402.8,677.8 L1403.2,677.2 L1403.5,671.6 L1403.8,666.6 L1404.2,661.0 L1404.5,658.5 L1404.9,659.1 L1405.2,654.3 L1405.6,657.3 L1406.0,651.8 L1406.3,651.2 L1406.5,651.8 L1406.8,665.7 L1407.0,671.4 L1407.3,675.0 L1407.6,676.1 L1407.9,681.6 L1408.2,688.1 L1408.5,693.7 L1408.8,696.8 L1409.1,697.4 L1409.3,688.6 L1409.5,690.4 L1409.7,688.9 L1409.9,675.4 L1410.1,670.8 L1410.4,671.4 L1410.7,673.4 L1411.0,678.2 L1411.3,680.0 L1411.6,680.0 L1411.9,680.6 L1412.2,678.0 L1412.6,678.7 L1413.0,676.2 L1413.3,673.6 L1413.7,672.3 L1414.0,668.6 L1414.3,670.1 L1414.7,668.0 L1415.0,667.4 L1415.4,658.5 L1415.7,654.0 L1415.9,640.8 L1416.1,640.0 L1416.4,643.8 L1416.8,645.3 L1417.2,641.6 L1417.5,648.4 L1417.8,646.7 L1418.2,647.0 L1418.6,631.1 L1418.9,628.8 L1419.2,629.4 L1419.6,630.9 L1420.0,629.4 L1420.3,638.6 L1420.7,637.9 L1421.0,645.6 L1421.3,642.1 L1421.7,640.6 L1422.0,640.7 L1422.3,628.0 L1422.7,626.0 L1423.1,615.2 L1423.4,617.9 L1423.8,612.0 L1424.2,607.4 L1424.5,610.1 L1424.8,603.5 L1425.2,602.9 L1425.5,603.8 L1425.9,607.5 L1426.2,621.0 L1426.6,623.2 L1426.9,625.5 L1427.3,633.9 L1427.7,638.0 L1428.0,638.6 L1428.3,638.0 L1428.7,634.1 L1429.0,630.9 L1429.3,619.6 L1429.7,619.0 L1430.0,616.4 L1430.2,602.3 L1430.5,600.8 L1430.7,599.1 L1430.9,589.3 L1431.1,585.4 L1431.4,586.0 L1431.7,589.2 L1432.0,589.5 L1432.3,593.2 L1432.6,592.9 L1432.9,593.8 L1433.2,578.8 L1433.6,575.4 L1434.0,570.6 L1434.3,570.0 L1434.0,569.2 L1433.7,569.3 L1433.4,569.2 L1433.1,568.6 L1433.4,574.0 L1433.8,570.1 L1434.1,574.3 L1434.4,578.8 L1434.8,579.4 L1435.1,589.5 L1435.5,581.0 L1435.8,591.6 L1435.9,584.0 L1436.0,576.7 L1436.1,561.8 L1436.2,567.9 L1436.2,564.3 L1436.3,561.2 L1436.4,542.2 L1436.4,536.7 L1436.5,533.0 L1436.6,547.0 L1436.6,532.4 L1437.0,540.9 L1437.3,542.0 L1437.4,541.4 L1437.6,531.0 L1437.8,533.2 L1437.9,522.2 L1438.1,516.4 L1438.5,515.8 L1438.9,513.2 L1439.3,522.5 L1439.7,526.0 L1440.1,533.4 L1440.5,534.0 L1440.6,516.9 L1440.8,519.4 L1441.0,510.9 L1441.1,510.0 L1441.4,497.8 L1441.6,497.2 L1441.9,499.0 L1442.2,503.6 L1442.4,491.4 L1442.5,489.8 L1442.6,489.4 L1442.7,482.8 L1443.1,484.0 L1443.5,497.2 L1443.9,494.6 L1444.3,494.0 L1444.6,498.5 L1445.0,499.3 L1445.3,500.4 L1445.7,499.8 L1446.0,491.4 L1446.4,490.8 L1446.6,491.4 L1446.8,502.1 L1447.0,506.8 L1447.3,509.9 L1447.5,519.6 L1447.8,518.7 L1448.2,505.2 L1448.5,504.0 L1448.8,490.8 L1449.1,491.4 L1449.4,497.2 L1449.6,496.6 L1449.7,491.1 L1449.8,489.6 L1450.0,481.9 L1450.1,468.4 L1450.4,475.7 L1450.7,478.0 L1450.8,462.5 L1450.9,459.0 L1451.0,453.9 L1451.1,452.2 L1451.2,451.6 L1451.5,463.7 L1451.7,454.4 L1452.0,466.8 L1452.4,461.0 L1452.8,460.4 L1453.2,469.7 L1453.6,474.8 L1454.0,481.5 L1454.4,482.8 L1454.8,475.9 L1455.2,473.2 L1455.3,479.1 L1455.4,487.5 L1455.6,491.1 L1455.7,494.0 L1455.8,504.2 L1456.0,507.6 L1456.3,498.7 L1456.5,494.8 L1456.8,490.8 L1457.2,477.8 L1457.6,477.2 L1458.0,487.5 L1458.4,490.8 L1458.8,493.3 L1459.2,494.0 L1459.6,496.3 L1460.0,505.2 L1460.4,505.8 L1460.8,510.0 L1461.1,510.9 L1461.4,516.4 L1461.9,526.0 L1462.1,525.4 L1462.3,517.2 L1462.6,510.0 L1462.9,509.1 L1463.2,498.8 L1463.6,499.4 L1464.0,506.8 L1464.4,505.8 L1464.8,505.2 L1465.0,504.6 L1465.3,494.0 L1465.6,486.0 L1465.9,483.0 L1466.2,478.0 L1466.6,471.1 L1466.9,470.0 L1467.2,471.3 L1467.5,479.2 L1467.8,481.2 L1468.2,483.1 L1468.5,482.8 L1468.8,484.4 L1469.0,480.4 L1469.1,465.8 L1469.3,465.2 L1469.4,463.1 L1469.5,450.7 L1469.6,446.0 L1469.9,446.6 L1470.2,454.2 L1470.6,455.6 L1470.9,444.2 L1471.2,441.8 L1471.5,441.2 L1471.8,443.6 L1472.2,445.0 L1472.5,450.8 L1472.9,446.4 L1473.2,445.7 L1473.6,444.4 L1473.3,445.0 L1473.0,445.0 L1472.7,447.7 L1472.4,449.0 L1472.1,449.8 L1471.7,448.3 L1471.4,450.4 L1471.6,439.5 L1471.8,443.8 L1472.0,434.8 L1472.2,426.7 L1472.4,424.8 L1472.8,430.1 L1473.1,433.8 L1473.5,434.4 L1473.7,425.1 L1473.8,417.9 L1473.9,403.0 L1474.1,410.5 L1474.2,403.0 L1474.3,402.4 L1474.6,407.5 L1475.0,405.8 L1475.3,412.0 L1475.4,405.8 L1475.6,411.4 L1475.8,400.5 L1475.9,390.5 L1476.1,386.4 L1476.5,387.0 L1476.8,395.3 L1477.2,396.0 L1477.4,395.4 L1477.5,389.1 L1477.7,392.6 L1477.8,376.4 L1478.0,368.8 L1478.3,373.4 L1478.6,376.2 L1479.0,376.8 L1479.1,376.2 L1479.2,374.0 L1479.3,351.8 L1479.4,345.4 L1479.5,345.4 L1479.6,344.8 L1479.8,332.1 L1480.0,326.8 L1480.2,321.7 L1480.4,320.0 L1480.6,331.3 L1480.8,327.3 L1481.0,337.5 L1481.2,347.4 L1481.4,348.0 L1481.7,360.1 L1482.0,360.8 L1482.2,360.2 L1482.4,359.2 L1482.6,348.3 L1482.8,340.0 L1483.2,330.8 L1483.6,328.8 L1483.8,337.7 L1484.0,349.7 L1484.2,352.2 L1484.4,352.8 L1484.7,351.1 L1485.0,344.8 L1485.2,358.1 L1485.3,364.6 L1485.4,374.6 L1485.6,356.7 L1485.7,366.7 L1485.8,375.2 L1486.2,367.0 L1486.6,364.0 L1486.7,371.3 L1486.9,370.4 L1487.0,386.8 L1487.1,382.7 L1487.2,379.0 L1487.3,396.0 L1487.7,384.1 L1488.1,383.2 L1488.2,392.6 L1488.3,383.8 L1488.5,388.7 L1488.6,398.8 L1488.7,403.2 L1488.9,415.2 L1489.2,405.8 L1489.5,402.4 L1489.6,416.4 L1489.6,420.4 L1489.7,430.7 L1489.7,433.5 L1489.8,431.9 L1489.8,454.6 L1489.9,454.6 L1489.9,449.5 L1490.0,454.6 L1490.0,455.2 L1490.2,437.3 L1490.4,445.1 L1490.6,437.9 L1490.8,431.2 L1491.1,440.2 L1491.4,440.8 L1491.6,440.2 L1491.8,423.8 L1491.9,417.5 L1492.1,412.6 L1492.2,412.0 L1492.6,419.0 L1492.9,421.6 L1493.0,419.4 L1493.1,398.1 L1493.3,405.8 L1493.4,390.4 L1493.5,390.2 L1493.7,389.6 L1494.0,390.2 L1494.3,399.2 L1494.4,397.1 L1494.6,396.3 L1494.7,391.0 L1494.8,378.4 L1495.0,381.7 L1495.2,388.6 L1495.4,385.1 L1495.6,402.4 L1495.9,393.0 L1496.2,389.6 L1496.4,401.1 L1496.5,403.0 L1496.6,405.1 L1496.8,399.6 L1496.9,399.3 L1497.0,421.6 L1497.4,421.0 L1497.7,408.8 L1497.8,413.4 L1498.0,414.7 L1498.2,429.3 L1498.3,434.0 L1498.5,437.6 L1498.9,438.2 L1499.3,439.2 L1499.6,435.5 L1499.9,435.4 L1500.2,431.8 L1500.6,428.0 L1500.9,435.2 L1501.3,433.8 L1501.6,436.5 L1502.0,437.6 L1502.3,430.3 L1502.5,419.0 L1502.8,418.4 L1503.1,419.0 L1503.4,428.0 L1503.6,427.4 L1503.8,427.4 L1504.0,411.6 L1504.2,400.6 L1504.4,399.2 L1504.7,401.9 L1505.0,410.4 L1505.2,399.8 L1505.4,396.8 L1505.6,396.2 L1505.8,396.2 L1506.0,383.2 L1506.4,391.7 L1506.8,392.8 L1507.0,390.2 L1507.3,373.5 L1507.5,375.8 L1507.8,372.0 L1508.1,371.7 L1508.5,371.5 L1508.9,371.2 L1509.1,379.4 L1509.4,386.3 L1509.7,389.6 L1510.0,389.0 L1510.3,380.0 L1510.5,389.0 L1510.6,392.7 L1510.7,407.6 L1510.9,404.7 L1511.0,411.4 L1511.1,412.0 L1511.4,408.1 L1511.8,399.2 L1511.9,399.8 L1512.1,407.8 L1512.2,412.1 L1512.4,420.8 L1512.6,414.2 L1512.7,431.2 L1513.1,417.4 L1513.5,416.8 L1513.9,407.8 L1514.3,407.2 L1514.6,409.2 L1515.0,412.2 L1515.3,424.8 L1515.7,436.2 L1516.0,438.0 L1516.4,439.2 L1516.7,436.5 L1516.9,423.2 L1517.2,421.6 L1517.6,419.3 L1518.0,418.4 L1518.3,409.6 L1518.5,403.0 L1518.8,402.4 L1519.2,411.9 L1519.6,415.2 L1520.0,424.2 L1520.4,424.8 L1520.7,424.1 L1521.0,418.5 L1521.4,405.6 L1521.7,405.0 L1522.0,399.7 L1522.3,397.6 L1522.6,403.6 L1523.0,408.2 L1523.3,408.8 L1523.7,409.9 L1524.0,411.4 L1524.4,412.0 L1524.7,411.4 L1524.9,400.9 L1525.2,396.0 L1525.6,395.4 L1526.0,389.6 L1526.3,389.0 L1526.6,383.2 L1527.0,381.7 L1527.3,374.4 L1527.5,375.5 L1527.8,379.5 L1528.1,389.6 L1528.4,390.2 L1528.7,396.0 L1529.0,393.5 L1529.4,394.8 L1529.7,386.4 L1530.1,385.7 L1530.4,385.8 L1530.8,383.2 L1531.1,383.9 L1531.4,389.9 L1531.8,391.2 L1532.1,390.2 L1532.5,390.2 L1532.9,389.6 L1533.2,398.3 L1533.5,401.6 L1533.8,399.3 L1534.2,393.4 L1534.5,392.8 L1534.9,390.4 L1535.2,389.6 L1535.6,388.0 L1535.9,387.4 L1536.2,375.2 L1536.6,373.8 L1536.9,368.8 L1537.2,369.4 L1537.5,376.2 L1537.8,376.8 L1538.2,377.4 L1538.5,378.6 L1538.8,380.0 L1539.1,383.0 L1539.3,385.2 L1539.6,397.6 L1539.9,382.8 L1540.2,382.1 L1540.6,380.0 L1540.9,379.4 L1541.2,373.0 L1541.5,368.8 L1541.6,367.6 L1541.8,368.2 L1541.9,348.6 L1542.0,348.0 L1542.2,336.9 L1542.3,332.1 L1542.5,331.2 L1542.8,334.2 L1543.1,339.0 L1543.4,344.8 L1543.8,347.2 L1544.1,349.0 L1544.4,349.6 L1544.6,341.1 L1544.8,334.5 L1545.0,332.0 L1545.4,322.2 L1545.7,320.8 L1546.1,314.4 L1546.4,317.1 L1546.8,312.8 L1547.1,313.4 L1547.4,325.6 L1547.9,332.0 L1548.2,340.9 L1548.6,341.6 L1548.9,346.6 L1549.2,347.2 L1549.5,345.1 L1549.7,340.4 L1550.0,332.0 L1550.4,331.4 L1550.8,322.4 L1551.2,326.9 L1551.6,328.8 L1552.0,328.2 L1552.4,327.2 L1552.8,325.6 L1553.2,316.0 L1553.6,310.5 L1554.0,309.6 L1553.9,309.0 L1553.9,296.3 L1554.1,290.9 L1554.3,284.7 L1554.6,273.5 L1554.8,272.9 L1555.0,264.0 L1555.3,260.2 L1555.5,243.9 L1555.7,249.8 L1556.0,248.7 L1556.2,242.4 L1556.4,243.0 L1556.6,243.0 L1556.9,270.0 L1557.1,259.5 L1557.3,261.6 L1557.5,272.9 L1557.6,272.3 L1557.8,272.3 L1558.0,263.9 L1558.1,240.5 L1558.3,252.6 L1558.4,241.3 L1558.6,232.2 L1558.7,231.6 L1559.1,226.8 L1559.5,229.4 L1559.8,220.8 L1560.1,225.8 L1560.3,235.7 L1560.6,230.8 L1560.8,245.4 L1561.1,246.0 L1561.3,231.7 L1561.5,228.6 L1561.8,230.3 L1562.0,224.4 L1562.1,241.0 L1562.2,243.1 L1562.3,234.8 L1562.4,241.9 L1562.5,238.9 L1562.7,251.0 L1562.8,251.1 L1562.9,265.8 L1563.2,265.2 L1563.5,263.8 L1563.8,260.3 L1564.1,258.6 L1564.2,259.2 L1564.4,270.1 L1564.5,276.0 L1564.6,284.9 L1564.7,285.5 L1565.0,283.9 L1565.4,284.9 L1565.8,284.3 L1566.1,283.1 L1566.5,281.9 L1566.8,282.5 L1567.1,297.7 L1567.4,299.9 L1567.7,299.3 L1568.1,298.8 L1568.5,295.1 L1568.8,294.5 L1569.1,300.8 L1569.3,310.6 L1569.6,316.8 L1569.8,318.4 L1570.1,321.5 L1570.3,337.9 L1570.5,322.1 L1570.7,340.2 L1571.0,343.1 L1571.3,335.9 L1571.7,336.0 L1572.1,333.3 L1572.4,332.3 L1572.5,346.7 L1572.6,348.9 L1572.7,358.5 L1572.8,359.8 L1572.9,347.4 L1573.0,360.2 L1573.1,371.9 L1573.5,374.8 L1573.8,372.5 L1574.2,379.2 L1574.6,375.7 L1574.9,382.7 L1575.3,382.1 L1575.6,373.4 L1576.0,363.5 L1576.4,362.9 L1576.7,362.3 L1577.0,354.5 L1577.3,346.7 L1577.6,350.7 L1578.0,348.7 L1578.3,350.2 L1578.7,351.1 L1579.1,352.1 L1579.2,351.5 L1579.4,342.4 L1579.6,329.3 L1579.8,327.5 L1580.0,326.9 L1580.3,325.7 L1580.7,321.5 L1581.0,318.7 L1581.4,317.9 L1581.6,324.0 L1581.7,343.6 L1581.9,331.1 L1582.0,334.8 L1582.2,346.1 L1582.3,360.5 L1582.5,360.5 L1582.7,361.1 L1582.9,355.6 L1583.2,349.1 L1583.4,349.5 L1583.7,352.1 L1583.9,335.9 L1584.2,335.3 L1584.5,330.2 L1584.8,332.5 L1585.1,319.8 L1585.4,310.7 L1585.7,308.9 L1586.0,309.4 L1586.3,307.8 L1586.6,308.4 L1586.9,307.7 L1587.2,307.7 L1587.5,307.1 L1587.9,315.3 L1588.2,320.8 L1588.6,323.0 L1589.0,326.9 L1589.3,327.5 L1589.7,328.1 L1590.0,330.7 L1590.4,335.7 L1590.8,342.2 L1591.1,329.6 L1591.5,334.6 L1591.8,321.1 L1592.2,317.9 L1592.5,317.3 L1592.8,316.6 L1593.1,316.7 L1593.5,310.7 L1593.8,316.3 L1594.2,323.2 L1594.5,327.6 L1594.9,328.1 L1595.3,328.7 L1595.6,328.1 L1595.9,326.2 L1596.2,319.0 L1596.5,314.3 L1596.9,313.7 L1597.2,309.5 L1597.6,298.1 L1597.8,297.5 L1598.1,285.3 L1598.3,286.0 L1598.6,285.2 L1598.8,269.4 L1599.2,271.5 L1599.5,273.6 L1599.8,274.1 L1600.1,274.7 L1600.5,274.1 L1600.8,272.3 L1601.2,267.0 L1601.5,261.3 L1601.9,267.9 L1602.3,273.6 L1602.6,277.7 L1603.0,278.3 L1603.3,278.9 L1603.6,281.3 L1603.9,284.0 L1604.2,287.3 L1604.6,294.3 L1604.9,301.2 L1605.2,298.0 L1605.5,302.6 L1605.9,294.3 L1606.2,295.5 L1606.6,289.0 L1606.9,285.5 L1607.3,284.9 L1607.7,282.0 L1608.0,279.9 L1608.4,277.7 L1608.7,272.1 L1609.0,273.0 L1609.3,277.0 L1609.6,280.3 L1609.9,295.5 L1610.2,299.9 L1610.5,306.1 L1610.8,310.8 L1611.1,315.5 L1611.4,316.1 L1611.8,316.7 L1612.1,321.0 L1612.4,323.8 L1612.7,327.8 L1613.0,321.9 L1613.3,305.8 L1613.6,307.5 L1613.8,307.3 L1614.1,299.9 L1614.4,298.3 L1614.8,295.0 L1615.1,299.3 L1615.4,292.8 L1615.7,292.2 L1616.0,286.6 L1616.3,285.5 L1616.5,304.3 L1616.7,292.6 L1616.9,303.3 L1617.1,317.7 L1617.3,317.9 L1617.5,315.6 L1617.7,323.3 L1618.1,320.3 L1618.5,319.6 L1618.8,317.0 L1619.2,307.6 L1619.5,303.5 L1619.8,302.8 L1620.1,302.3 L1620.5,301.7 L1620.8,302.9 L1621.1,301.6 L1621.4,300.6 L1621.7,299.0 L1622.0,301.4 L1622.2,311.7 L1622.5,320.9 L1622.8,321.5 L1623.1,324.4 L1623.5,335.9 L1623.4,348.8 L1623.4,349.4 L1623.3,362.8 L1623.2,359.7 L1623.2,365.9 L1623.1,366.5 L1623.5,360.2 L1623.8,358.6 L1624.1,360.4 L1624.5,362.2 L1624.8,361.7 L1625.2,353.4 L1625.5,350.1 L1625.8,346.7 L1626.1,361.0 L1626.3,358.0 L1626.5,367.7 L1626.7,368.3 L1627.1,364.1 L1627.4,358.3 L1627.7,359.4 L1628.1,356.7 L1628.4,354.9 L1628.8,352.1 L1629.1,347.3 L1629.4,346.7 L1629.6,353.2 L1629.8,356.8 L1630.0,366.2 L1630.1,371.3 L1630.3,371.9 L1630.7,375.2 L1631.0,380.3 L1631.4,380.8 L1631.8,382.5 L1632.1,383.6 L1632.4,383.6 L1632.7,383.6 L1633.0,383.6 L1633.3,383.0 L1633.5,375.4 L1633.8,361.3 L1634.0,359.0 L1634.3,357.5 L1634.6,360.2 L1635.0,358.1 L1635.3,362.1 L1635.6,359.6 L1636.0,361.7 L1636.3,363.2 L1636.6,364.1 L1637.0,364.7 L1637.2,352.5 L1637.3,341.4 L1637.5,341.3 L1637.7,336.5 L1637.9,335.9 L1638.2,335.3 L1638.5,324.8 L1638.8,321.5 L1639.1,324.4 L1639.4,322.1 L1639.7,322.9 L1640.0,327.2 L1640.3,329.8 L1640.6,331.7 L1640.9,332.3 L1640.9,327.8 L1640.8,327.9 L1640.7,318.5 L1640.6,311.9 L1640.6,303.5 L1640.9,301.0 L1641.2,298.9 L1641.6,302.9 L1641.9,302.2 L1642.3,298.9 L1642.6,296.9 L1642.9,297.4 L1643.3,292.7 L1643.6,294.4 L1643.9,299.3 L1644.2,307.1 L1644.5,312.5 L1644.8,309.1 L1645.1,308.3 L1645.4,308.0 L1645.7,293.0 L1646.0,287.3 L1646.3,287.9 L1646.7,299.3 L1647.1,293.2 L1647.4,299.3 L1647.8,299.9 L1648.1,298.2 L1648.5,295.1 L1648.8,295.5 L1649.2,297.5 L1649.6,294.5 L1649.8,304.1 L1650.0,311.1 L1650.3,325.3 L1650.5,321.6 L1650.8,309.1 L1651.0,328.7 L1651.3,328.1 L1651.5,328.1 L1651.8,319.5 L1652.0,305.9 L1652.3,299.9 L1652.4,299.3 L1652.6,299.3 L1652.8,299.1 L1653.0,271.8 L1653.2,271.2 L1653.5,266.2 L1653.9,265.3 L1654.2,266.8 L1654.6,264.6 L1655.0,262.2 L1655.3,263.2 L1655.6,264.0 L1655.9,264.4 L1656.2,265.1 L1656.5,265.2 L1656.8,265.2 L1657.1,265.8 L1657.5,258.7 L1657.8,246.6 L1658.2,247.3 L1658.6,246.0 L1658.9,241.4 L1659.2,242.3 L1659.5,238.8 L1659.8,242.2 L1660.1,244.3 L1660.4,243.2 L1660.7,255.0 L1661.1,254.4 L1661.4,254.3 L1661.8,254.0 L1662.2,253.2 L1662.5,253.8 L1662.8,253.8 L1663.1,267.4 L1663.4,268.5 L1663.7,284.3 L1664.0,285.5 L1664.3,267.7 L1664.7,276.5 L1665.0,278.8 L1665.4,264.0 L1665.7,263.0 L1666.0,262.0 L1666.3,261.0 L1666.7,260.4 L1667.0,267.5 L1667.3,275.3 L1667.6,267.3 L1667.9,281.9 L1668.2,283.0 L1668.6,293.1 L1668.9,290.0 L1669.2,284.7 L1669.6,300.4 L1669.9,304.6 L1670.3,312.5 L1670.6,299.7 L1670.9,292.5 L1671.2,289.7 L1671.5,289.1 L1671.9,290.3 L1672.2,290.7 L1672.6,293.4 L1672.9,297.5 L1673.3,299.9 L1673.7,288.8 L1674.0,294.9 L1674.4,276.0 L1674.7,275.3 L1675.1,274.7 L1675.3,284.3 L1675.6,278.6 L1675.8,283.5 L1676.0,294.5 L1676.2,285.7 L1676.5,310.0 L1676.7,317.3 L1676.9,317.9 L1677.1,314.4 L1677.2,296.1 L1677.4,287.6 L1677.5,286.1 L1677.7,289.6 L1677.8,288.0 L1678.0,281.9 L1678.1,272.3 L1678.3,281.3 L1678.4,262.8 L1678.6,255.6 L1678.7,255.0 L1679.0,253.4 L1679.4,250.3 L1679.7,251.4 L1680.0,250.3 L1680.4,249.5 L1680.7,248.7 L1680.9,249.3 L1681.1,257.2 L1681.4,261.6 L1681.6,269.4 L1681.9,276.7 L1682.2,278.9 L1682.5,273.1 L1682.8,286.4 L1683.2,285.5 L1683.6,279.7 L1683.9,279.8 L1684.3,268.4 L1684.6,264.0 L1684.9,256.5 L1685.1,262.4 L1685.3,251.2 L1685.5,242.4 L1685.9,243.0 L1686.3,246.6 L1686.6,250.8 L1687.0,249.3 L1687.3,251.4 L1687.4,242.2 L1687.5,241.3 L1687.6,240.2 L1687.6,235.2 L1687.7,224.4 L1688.1,225.2 L1688.4,226.0 L1688.8,228.2 L1689.1,231.6 L1689.1,242.0 L1689.1,244.2"/>
</svg></body></html>
